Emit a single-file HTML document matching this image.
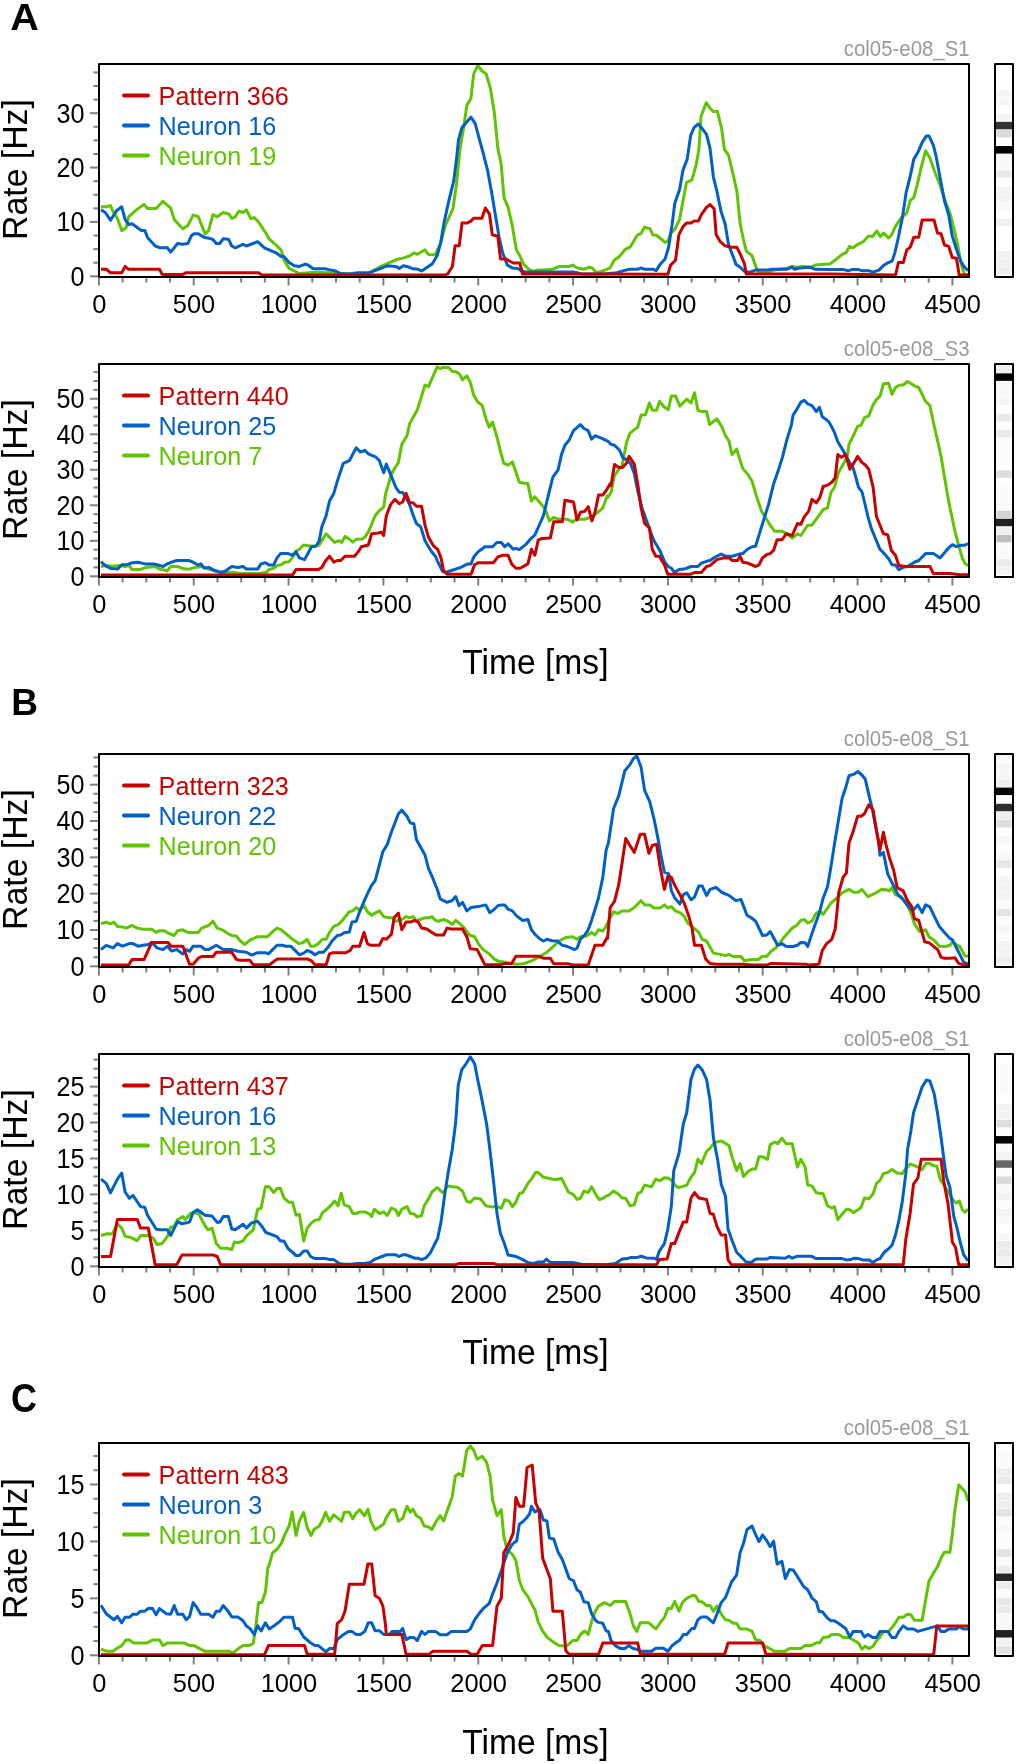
<!DOCTYPE html>
<html><head><meta charset="utf-8"><style>html,body{margin:0;padding:0;background:#fff;width:1017px;height:1764px;overflow:hidden}</style></head>
<body><svg style="display:block;will-change:transform" width="1017" height="1764" viewBox="0 0 1017 1764">
<rect width="1017" height="1764" fill="#fff"/>
<text transform="translate(10.30,29.80) scale(1.07,1.0)" font-weight="bold" font-family='"Liberation Sans", sans-serif' font-size="37">A</text>
<text transform="translate(11.20,715.30) scale(1.0,1.02)" font-weight="bold" font-family='"Liberation Sans", sans-serif' font-size="37">B</text>
<text transform="translate(11.00,1412.30) scale(0.97,1.09)" font-weight="bold" font-family='"Liberation Sans", sans-serif' font-size="37">C</text>
<clipPath id="c0"><rect x="99" y="64" width="870" height="213"/></clipPath>
<line x1="90" y1="276.30" x2="99" y2="276.30" stroke="#808080" stroke-width="2"/>
<text transform="translate(84.60,285.60) scale(1.0,1.08)" text-anchor="end" font-family='"Liberation Sans", sans-serif' font-size="25.2">0</text>
<line x1="93.5" y1="262.71" x2="99" y2="262.71" stroke="#808080" stroke-width="2"/>
<line x1="93.5" y1="249.12" x2="99" y2="249.12" stroke="#808080" stroke-width="2"/>
<line x1="93.5" y1="235.53" x2="99" y2="235.53" stroke="#808080" stroke-width="2"/>
<line x1="90" y1="221.93" x2="99" y2="221.93" stroke="#808080" stroke-width="2"/>
<text transform="translate(84.60,231.23) scale(1.0,1.08)" text-anchor="end" font-family='"Liberation Sans", sans-serif' font-size="25.2">10</text>
<line x1="93.5" y1="208.34" x2="99" y2="208.34" stroke="#808080" stroke-width="2"/>
<line x1="93.5" y1="194.75" x2="99" y2="194.75" stroke="#808080" stroke-width="2"/>
<line x1="93.5" y1="181.16" x2="99" y2="181.16" stroke="#808080" stroke-width="2"/>
<line x1="90" y1="167.57" x2="99" y2="167.57" stroke="#808080" stroke-width="2"/>
<text transform="translate(84.60,176.87) scale(1.0,1.08)" text-anchor="end" font-family='"Liberation Sans", sans-serif' font-size="25.2">20</text>
<line x1="93.5" y1="153.98" x2="99" y2="153.98" stroke="#808080" stroke-width="2"/>
<line x1="93.5" y1="140.38" x2="99" y2="140.38" stroke="#808080" stroke-width="2"/>
<line x1="93.5" y1="126.79" x2="99" y2="126.79" stroke="#808080" stroke-width="2"/>
<line x1="90" y1="113.20" x2="99" y2="113.20" stroke="#808080" stroke-width="2"/>
<text transform="translate(84.60,122.50) scale(1.0,1.08)" text-anchor="end" font-family='"Liberation Sans", sans-serif' font-size="25.2">30</text>
<line x1="93.5" y1="99.61" x2="99" y2="99.61" stroke="#808080" stroke-width="2"/>
<line x1="93.5" y1="86.02" x2="99" y2="86.02" stroke="#808080" stroke-width="2"/>
<line x1="93.5" y1="72.43" x2="99" y2="72.43" stroke="#808080" stroke-width="2"/>
<line x1="98.90" y1="277" x2="98.90" y2="285.5" stroke="#808080" stroke-width="2"/>
<text transform="translate(99.20,312.90) scale(1.0,1.03)" text-anchor="middle" font-family='"Liberation Sans", sans-serif' font-size="25.4">0</text>
<line x1="122.61" y1="277" x2="122.61" y2="282.5" stroke="#808080" stroke-width="2"/>
<line x1="146.32" y1="277" x2="146.32" y2="282.5" stroke="#808080" stroke-width="2"/>
<line x1="170.03" y1="277" x2="170.03" y2="282.5" stroke="#808080" stroke-width="2"/>
<line x1="193.73" y1="277" x2="193.73" y2="285.5" stroke="#808080" stroke-width="2"/>
<text transform="translate(194.03,312.90) scale(1.0,1.03)" text-anchor="middle" font-family='"Liberation Sans", sans-serif' font-size="25.4">500</text>
<line x1="217.44" y1="277" x2="217.44" y2="282.5" stroke="#808080" stroke-width="2"/>
<line x1="241.15" y1="277" x2="241.15" y2="282.5" stroke="#808080" stroke-width="2"/>
<line x1="264.86" y1="277" x2="264.86" y2="282.5" stroke="#808080" stroke-width="2"/>
<line x1="288.57" y1="277" x2="288.57" y2="285.5" stroke="#808080" stroke-width="2"/>
<text transform="translate(288.87,312.90) scale(1.0,1.03)" text-anchor="middle" font-family='"Liberation Sans", sans-serif' font-size="25.4">1000</text>
<line x1="312.27" y1="277" x2="312.27" y2="282.5" stroke="#808080" stroke-width="2"/>
<line x1="335.98" y1="277" x2="335.98" y2="282.5" stroke="#808080" stroke-width="2"/>
<line x1="359.69" y1="277" x2="359.69" y2="282.5" stroke="#808080" stroke-width="2"/>
<line x1="383.40" y1="277" x2="383.40" y2="285.5" stroke="#808080" stroke-width="2"/>
<text transform="translate(383.70,312.90) scale(1.0,1.03)" text-anchor="middle" font-family='"Liberation Sans", sans-serif' font-size="25.4">1500</text>
<line x1="407.11" y1="277" x2="407.11" y2="282.5" stroke="#808080" stroke-width="2"/>
<line x1="430.82" y1="277" x2="430.82" y2="282.5" stroke="#808080" stroke-width="2"/>
<line x1="454.52" y1="277" x2="454.52" y2="282.5" stroke="#808080" stroke-width="2"/>
<line x1="478.23" y1="277" x2="478.23" y2="285.5" stroke="#808080" stroke-width="2"/>
<text transform="translate(478.53,312.90) scale(1.0,1.03)" text-anchor="middle" font-family='"Liberation Sans", sans-serif' font-size="25.4">2000</text>
<line x1="501.94" y1="277" x2="501.94" y2="282.5" stroke="#808080" stroke-width="2"/>
<line x1="525.65" y1="277" x2="525.65" y2="282.5" stroke="#808080" stroke-width="2"/>
<line x1="549.36" y1="277" x2="549.36" y2="282.5" stroke="#808080" stroke-width="2"/>
<line x1="573.07" y1="277" x2="573.07" y2="285.5" stroke="#808080" stroke-width="2"/>
<text transform="translate(573.37,312.90) scale(1.0,1.03)" text-anchor="middle" font-family='"Liberation Sans", sans-serif' font-size="25.4">2500</text>
<line x1="596.78" y1="277" x2="596.78" y2="282.5" stroke="#808080" stroke-width="2"/>
<line x1="620.48" y1="277" x2="620.48" y2="282.5" stroke="#808080" stroke-width="2"/>
<line x1="644.19" y1="277" x2="644.19" y2="282.5" stroke="#808080" stroke-width="2"/>
<line x1="667.90" y1="277" x2="667.90" y2="285.5" stroke="#808080" stroke-width="2"/>
<text transform="translate(668.20,312.90) scale(1.0,1.03)" text-anchor="middle" font-family='"Liberation Sans", sans-serif' font-size="25.4">3000</text>
<line x1="691.61" y1="277" x2="691.61" y2="282.5" stroke="#808080" stroke-width="2"/>
<line x1="715.32" y1="277" x2="715.32" y2="282.5" stroke="#808080" stroke-width="2"/>
<line x1="739.02" y1="277" x2="739.02" y2="282.5" stroke="#808080" stroke-width="2"/>
<line x1="762.73" y1="277" x2="762.73" y2="285.5" stroke="#808080" stroke-width="2"/>
<text transform="translate(763.03,312.90) scale(1.0,1.03)" text-anchor="middle" font-family='"Liberation Sans", sans-serif' font-size="25.4">3500</text>
<line x1="786.44" y1="277" x2="786.44" y2="282.5" stroke="#808080" stroke-width="2"/>
<line x1="810.15" y1="277" x2="810.15" y2="282.5" stroke="#808080" stroke-width="2"/>
<line x1="833.86" y1="277" x2="833.86" y2="282.5" stroke="#808080" stroke-width="2"/>
<line x1="857.57" y1="277" x2="857.57" y2="285.5" stroke="#808080" stroke-width="2"/>
<text transform="translate(857.87,312.90) scale(1.0,1.03)" text-anchor="middle" font-family='"Liberation Sans", sans-serif' font-size="25.4">4000</text>
<line x1="881.27" y1="277" x2="881.27" y2="282.5" stroke="#808080" stroke-width="2"/>
<line x1="904.98" y1="277" x2="904.98" y2="282.5" stroke="#808080" stroke-width="2"/>
<line x1="928.69" y1="277" x2="928.69" y2="282.5" stroke="#808080" stroke-width="2"/>
<line x1="952.40" y1="277" x2="952.40" y2="285.5" stroke="#808080" stroke-width="2"/>
<text transform="translate(952.70,312.90) scale(1.0,1.03)" text-anchor="middle" font-family='"Liberation Sans", sans-serif' font-size="25.4">4500</text>
<polyline clip-path="url(#c0)" points="101.0,206.8 106.2,206.8 110.5,205.6 113.1,211.6 117.4,218.5 121.7,230.6 126.0,228.0 128.6,216.8 136.3,209.9 144.0,204.4 147.5,208.5 156.1,208.5 163.0,201.3 170.7,208.2 174.2,219.4 182.8,228.8 187.9,225.4 193.1,215.1 198.3,216.8 205.1,234.0 208.6,230.6 212.9,214.7 217.2,216.8 223.2,212.5 229.2,214.2 231.8,218.5 235.3,216.8 238.7,211.3 243.0,212.5 246.4,209.9 250.7,218.5 254.2,217.6 258.5,222.0 265.4,232.3 269.3,239.2 275.3,244.3 281.3,250.3 283.9,259.8 289.1,268.4 294.3,271.0 299.4,273.6 309.7,272.7 316.6,272.2 327.0,272.7 333.8,273.6 342.4,273.6 347.6,273.9 357.9,272.7 370.0,272.2 382.0,265.8 395.8,259.8 402.7,258.1 409.6,256.0 413.9,252.9 417.3,254.3 425.0,249.8 428.5,254.6 435.1,254.8 440.6,243.1 445.5,225.2 453.0,208.7 456.5,183.9 459.9,149.5 464.1,124.7 466.8,105.4 470.9,98.5 473.7,73.8 477.8,65.5 481.9,71.0 486.1,73.8 490.2,87.5 494.3,112.3 497.8,148.1 501.2,164.6 504.0,197.7 508.1,207.3 512.2,225.2 516.4,250.0 519.8,255.5 523.2,263.7 528.8,269.3 532.9,271.3 538.4,269.9 543.9,269.9 552.2,269.3 559.1,266.5 568.8,266.5 572.9,265.1 577.0,267.9 583.9,269.3 589.4,267.2 592.2,267.9 596.3,272.7 601.8,271.3 610.1,267.9 614.2,260.3 619.7,256.2 625.2,249.3 630.0,247.2 637.6,234.8 641.0,233.5 644.5,227.3 650.0,228.6 652.7,234.8 656.9,235.5 665.1,242.4 667.9,241.0 670.6,233.5 674.8,229.3 679.6,219.7 682.3,204.5 686.5,182.5 692.0,179.8 696.2,164.6 698.9,149.5 701.0,116.4 706.2,102.7 710.0,108.2 713.4,111.6 717.5,111.6 721.7,128.8 724.4,149.5 728.5,155.0 732.7,172.9 736.8,190.8 740.2,223.8 743.0,237.6 746.4,251.4 751.9,255.5 756.8,269.3 758.8,272.7 767.1,272.7 772.6,270.6 778.1,269.3 786.4,268.6 791.9,266.5 797.4,267.2 802.9,266.5 811.1,267.2 815.3,265.1 820.8,264.4 830.0,263.9 835.6,259.7 842.6,254.1 846.1,252.7 849.5,246.4 853.0,247.8 857.9,244.3 863.5,241.5 868.4,235.9 872.6,236.6 876.8,231.0 880.3,236.6 883.8,233.1 888.6,238.0 891.4,235.2 895.6,226.2 901.2,217.8 906.8,212.9 910.3,200.3 913.8,197.5 917.3,184.3 921.5,166.1 925.6,150.8 929.8,157.7 934.7,171.7 940.3,185.7 945.2,201.0 950.1,213.6 954.3,230.3 957.8,245.7 961.2,263.9 964.0,273.6 968.2,275.0" fill="none" stroke="#60c400" stroke-width="3" stroke-linejoin="round" stroke-linecap="butt"/>
<polyline clip-path="url(#c0)" points="101.0,209.9 105.3,212.5 110.5,220.2 116.5,210.8 121.7,206.8 125.1,219.4 128.6,224.5 132.0,223.7 141.5,230.6 144.9,230.6 147.5,237.4 155.2,246.0 160.4,247.8 167.3,247.8 170.7,252.1 177.6,243.5 182.8,244.3 187.9,243.5 191.4,235.7 194.0,233.7 198.3,233.7 204.3,237.4 209.4,238.3 212.9,239.5 216.3,243.5 219.8,243.5 223.2,238.8 228.4,239.2 231.8,246.0 235.3,247.8 243.0,244.3 246.4,246.0 257.6,241.7 264.5,247.8 270.2,250.3 276.2,252.9 281.3,256.4 283.9,256.4 289.1,262.4 294.3,265.8 299.4,266.4 305.4,264.1 308.0,265.0 313.2,268.8 325.2,268.8 330.4,270.1 335.6,271.0 340.7,273.6 351.0,273.9 357.9,273.1 368.3,273.2 376.9,269.8 387.2,265.8 395.8,266.4 399.2,268.4 403.5,265.8 407.8,266.7 413.0,268.8 418.2,269.3 421.6,271.0 426.8,267.6 432.4,263.7 437.2,255.5 440.6,243.1 444.1,222.4 448.9,200.4 453.7,181.1 456.5,159.1 458.5,139.8 462.0,127.5 466.8,121.9 470.9,117.1 475.1,123.3 479.2,138.5 483.3,153.6 487.5,170.1 491.6,192.2 495.7,216.9 499.2,237.6 502.6,252.7 507.4,265.1 512.2,267.9 517.7,268.6 521.9,271.3 526.0,272.0 543.9,272.0 572.9,272.0 577.0,272.7 582.5,274.1 603.2,274.1 610.1,273.4 616.9,272.7 623.8,270.6 629.3,269.3 637.6,269.3 641.0,267.9 644.5,269.3 653.4,269.3 656.2,270.6 659.6,265.1 665.1,258.9 668.6,247.2 672.0,225.2 674.8,203.2 679.6,189.4 683.0,170.1 687.2,159.1 690.6,135.7 694.1,127.5 698.3,124.0 702.4,128.8 706.5,134.3 710.0,148.1 713.4,177.0 716.8,190.8 721.0,211.4 725.1,223.8 728.5,244.5 732.7,255.5 736.1,264.4 740.2,267.2 745.1,272.0 750.6,272.0 756.1,269.9 767.1,269.9 772.6,269.3 786.4,269.3 791.9,267.2 794.6,269.3 800.1,267.9 809.8,267.2 815.3,269.3 830.0,269.4 842.6,269.4 848.2,270.8 852.3,269.4 857.9,269.4 862.1,270.8 869.1,270.8 873.3,272.2 878.9,270.1 883.8,265.2 887.2,263.2 892.1,261.1 894.9,252.7 898.4,237.3 902.6,216.4 906.1,192.6 910.3,175.9 913.8,159.1 918.0,152.2 922.2,142.4 926.3,136.1 929.1,136.1 933.3,145.2 936.1,156.3 940.3,178.7 944.5,201.0 948.7,215.0 952.2,235.9 957.1,251.3 960.6,261.1 964.0,266.6 968.2,270.8" fill="none" stroke="#0060c8" stroke-width="3" stroke-linejoin="round" stroke-linecap="butt"/>
<polyline clip-path="url(#c0)" points="101.0,269.3 106.2,269.3 110.5,272.7 121.7,272.7 125.1,266.4 128.6,269.3 159.5,269.3 162.1,274.4 182.8,274.4 186.2,272.7 258.5,272.7 261.9,275.0 270.0,275.0 440.0,275.0 444.8,274.8 447.5,274.1 452.4,266.5 455.1,245.8 459.2,245.8 462.0,223.1 466.8,223.1 470.9,221.1 473.7,218.3 481.9,218.3 485.4,208.0 489.5,214.2 492.3,234.8 497.8,236.2 500.5,258.9 505.4,258.9 509.5,261.0 513.6,263.1 519.8,263.1 522.6,274.1 560.0,274.1 667.9,274.3 670.6,265.1 675.5,260.3 678.9,234.8 683.0,226.6 686.5,223.1 690.6,223.1 694.1,221.1 698.3,221.1 701.7,214.2 706.5,207.3 710.0,204.5 714.1,208.7 716.2,234.8 720.3,241.7 725.1,245.8 731.3,247.2 736.8,247.2 740.9,255.5 744.4,263.7 746.4,274.1 830.0,274.1 895.6,275.0 898.4,262.5 903.3,262.5 906.8,249.9 910.3,247.1 913.8,237.3 918.7,237.3 922.2,219.9 934.0,219.9 937.5,233.1 941.0,233.8 944.5,245.0 948.7,246.4 952.2,257.6 956.4,258.3 959.2,275.0 968.2,275.0" fill="none" stroke="#c80000" stroke-width="3" stroke-linejoin="round" stroke-linecap="butt"/>
<rect x="99" y="64" width="870" height="213" fill="none" stroke="#000" stroke-width="2" stroke-linejoin="round"/>
<line x1="124" y1="95.6" x2="148" y2="95.6" stroke="#c80000" stroke-width="4" stroke-linecap="round"/>
<text transform="translate(158.60,105.10) scale(1.0,1.057)" fill="#c80000" font-family='"Liberation Sans", sans-serif' font-size="25.2">Pattern 366</text>
<line x1="124" y1="125.6" x2="148" y2="125.6" stroke="#0060c8" stroke-width="4" stroke-linecap="round"/>
<text transform="translate(158.60,135.10) scale(1.0,1.057)" fill="#0060c8" font-family='"Liberation Sans", sans-serif' font-size="25.2">Neuron 16</text>
<line x1="124" y1="155.6" x2="148" y2="155.6" stroke="#60c400" stroke-width="4" stroke-linecap="round"/>
<text transform="translate(158.60,165.10) scale(1.0,1.057)" fill="#60c400" font-family='"Liberation Sans", sans-serif' font-size="25.2">Neuron 19</text>
<text transform="translate(969.60,55.60) scale(1.0,1.09)" text-anchor="end" fill="#999" font-family='"Liberation Sans", sans-serif' font-size="20.4">col05-e08_S1</text>
<text transform="translate(27.20,169.50) rotate(-90) scale(1.0,1.045)" text-anchor="middle" font-family='"Liberation Sans", sans-serif' font-size="33.8">Rate [Hz]</text>
<rect x="996.5" y="89.53" width="15" height="7.48" fill="rgb(245,245,245)"/>
<rect x="996.5" y="97.61" width="15" height="7.48" fill="rgb(245,245,245)"/>
<rect x="996.5" y="113.76" width="15" height="7.48" fill="rgb(243,243,243)"/>
<rect x="995" y="121.84" width="18" height="7.48" fill="rgb(51,51,51)"/>
<rect x="996.5" y="129.92" width="15" height="7.48" fill="rgb(217,217,217)"/>
<rect x="996.5" y="137.99" width="15" height="7.48" fill="rgb(252,252,252)"/>
<rect x="995" y="146.07" width="18" height="7.48" fill="rgb(0,0,0)"/>
<rect x="996.5" y="154.15" width="15" height="7.48" fill="rgb(248,248,248)"/>
<rect x="996.5" y="162.22" width="15" height="7.48" fill="rgb(248,248,248)"/>
<rect x="996.5" y="170.30" width="15" height="7.48" fill="rgb(232,232,232)"/>
<rect x="996.5" y="186.45" width="15" height="7.48" fill="rgb(244,244,244)"/>
<rect x="996.5" y="194.53" width="15" height="7.48" fill="rgb(244,244,244)"/>
<rect x="996.5" y="202.61" width="15" height="7.48" fill="rgb(248,248,248)"/>
<rect x="996.5" y="218.76" width="15" height="7.48" fill="rgb(240,240,240)"/>
<rect x="996.5" y="251.07" width="15" height="7.48" fill="rgb(240,240,240)"/>
<rect x="996.5" y="259.15" width="15" height="7.48" fill="rgb(240,240,240)"/>
<rect x="996.5" y="267.22" width="15" height="7.48" fill="rgb(238,238,238)"/>
<rect x="995" y="64" width="18" height="213" fill="none" stroke="#000" stroke-width="2" stroke-linejoin="round"/>
<clipPath id="c1"><rect x="99" y="364" width="870" height="213"/></clipPath>
<line x1="90" y1="576.30" x2="99" y2="576.30" stroke="#808080" stroke-width="2"/>
<text transform="translate(84.60,585.60) scale(1.0,1.08)" text-anchor="end" font-family='"Liberation Sans", sans-serif' font-size="25.2">0</text>
<line x1="93.5" y1="567.42" x2="99" y2="567.42" stroke="#808080" stroke-width="2"/>
<line x1="93.5" y1="558.55" x2="99" y2="558.55" stroke="#808080" stroke-width="2"/>
<line x1="93.5" y1="549.67" x2="99" y2="549.67" stroke="#808080" stroke-width="2"/>
<line x1="90" y1="540.80" x2="99" y2="540.80" stroke="#808080" stroke-width="2"/>
<text transform="translate(84.60,550.10) scale(1.0,1.08)" text-anchor="end" font-family='"Liberation Sans", sans-serif' font-size="25.2">10</text>
<line x1="93.5" y1="531.92" x2="99" y2="531.92" stroke="#808080" stroke-width="2"/>
<line x1="93.5" y1="523.05" x2="99" y2="523.05" stroke="#808080" stroke-width="2"/>
<line x1="93.5" y1="514.17" x2="99" y2="514.17" stroke="#808080" stroke-width="2"/>
<line x1="90" y1="505.30" x2="99" y2="505.30" stroke="#808080" stroke-width="2"/>
<text transform="translate(84.60,514.60) scale(1.0,1.08)" text-anchor="end" font-family='"Liberation Sans", sans-serif' font-size="25.2">20</text>
<line x1="93.5" y1="496.42" x2="99" y2="496.42" stroke="#808080" stroke-width="2"/>
<line x1="93.5" y1="487.55" x2="99" y2="487.55" stroke="#808080" stroke-width="2"/>
<line x1="93.5" y1="478.67" x2="99" y2="478.67" stroke="#808080" stroke-width="2"/>
<line x1="90" y1="469.79" x2="99" y2="469.79" stroke="#808080" stroke-width="2"/>
<text transform="translate(84.60,479.09) scale(1.0,1.08)" text-anchor="end" font-family='"Liberation Sans", sans-serif' font-size="25.2">30</text>
<line x1="93.5" y1="460.92" x2="99" y2="460.92" stroke="#808080" stroke-width="2"/>
<line x1="93.5" y1="452.04" x2="99" y2="452.04" stroke="#808080" stroke-width="2"/>
<line x1="93.5" y1="443.17" x2="99" y2="443.17" stroke="#808080" stroke-width="2"/>
<line x1="90" y1="434.29" x2="99" y2="434.29" stroke="#808080" stroke-width="2"/>
<text transform="translate(84.60,443.59) scale(1.0,1.08)" text-anchor="end" font-family='"Liberation Sans", sans-serif' font-size="25.2">40</text>
<line x1="93.5" y1="425.42" x2="99" y2="425.42" stroke="#808080" stroke-width="2"/>
<line x1="93.5" y1="416.54" x2="99" y2="416.54" stroke="#808080" stroke-width="2"/>
<line x1="93.5" y1="407.67" x2="99" y2="407.67" stroke="#808080" stroke-width="2"/>
<line x1="90" y1="398.79" x2="99" y2="398.79" stroke="#808080" stroke-width="2"/>
<text transform="translate(84.60,408.09) scale(1.0,1.08)" text-anchor="end" font-family='"Liberation Sans", sans-serif' font-size="25.2">50</text>
<line x1="93.5" y1="389.92" x2="99" y2="389.92" stroke="#808080" stroke-width="2"/>
<line x1="93.5" y1="381.04" x2="99" y2="381.04" stroke="#808080" stroke-width="2"/>
<line x1="93.5" y1="372.17" x2="99" y2="372.17" stroke="#808080" stroke-width="2"/>
<line x1="98.90" y1="577" x2="98.90" y2="585.5" stroke="#808080" stroke-width="2"/>
<text transform="translate(99.20,612.90) scale(1.0,1.03)" text-anchor="middle" font-family='"Liberation Sans", sans-serif' font-size="25.4">0</text>
<line x1="122.61" y1="577" x2="122.61" y2="582.5" stroke="#808080" stroke-width="2"/>
<line x1="146.32" y1="577" x2="146.32" y2="582.5" stroke="#808080" stroke-width="2"/>
<line x1="170.03" y1="577" x2="170.03" y2="582.5" stroke="#808080" stroke-width="2"/>
<line x1="193.73" y1="577" x2="193.73" y2="585.5" stroke="#808080" stroke-width="2"/>
<text transform="translate(194.03,612.90) scale(1.0,1.03)" text-anchor="middle" font-family='"Liberation Sans", sans-serif' font-size="25.4">500</text>
<line x1="217.44" y1="577" x2="217.44" y2="582.5" stroke="#808080" stroke-width="2"/>
<line x1="241.15" y1="577" x2="241.15" y2="582.5" stroke="#808080" stroke-width="2"/>
<line x1="264.86" y1="577" x2="264.86" y2="582.5" stroke="#808080" stroke-width="2"/>
<line x1="288.57" y1="577" x2="288.57" y2="585.5" stroke="#808080" stroke-width="2"/>
<text transform="translate(288.87,612.90) scale(1.0,1.03)" text-anchor="middle" font-family='"Liberation Sans", sans-serif' font-size="25.4">1000</text>
<line x1="312.27" y1="577" x2="312.27" y2="582.5" stroke="#808080" stroke-width="2"/>
<line x1="335.98" y1="577" x2="335.98" y2="582.5" stroke="#808080" stroke-width="2"/>
<line x1="359.69" y1="577" x2="359.69" y2="582.5" stroke="#808080" stroke-width="2"/>
<line x1="383.40" y1="577" x2="383.40" y2="585.5" stroke="#808080" stroke-width="2"/>
<text transform="translate(383.70,612.90) scale(1.0,1.03)" text-anchor="middle" font-family='"Liberation Sans", sans-serif' font-size="25.4">1500</text>
<line x1="407.11" y1="577" x2="407.11" y2="582.5" stroke="#808080" stroke-width="2"/>
<line x1="430.82" y1="577" x2="430.82" y2="582.5" stroke="#808080" stroke-width="2"/>
<line x1="454.52" y1="577" x2="454.52" y2="582.5" stroke="#808080" stroke-width="2"/>
<line x1="478.23" y1="577" x2="478.23" y2="585.5" stroke="#808080" stroke-width="2"/>
<text transform="translate(478.53,612.90) scale(1.0,1.03)" text-anchor="middle" font-family='"Liberation Sans", sans-serif' font-size="25.4">2000</text>
<line x1="501.94" y1="577" x2="501.94" y2="582.5" stroke="#808080" stroke-width="2"/>
<line x1="525.65" y1="577" x2="525.65" y2="582.5" stroke="#808080" stroke-width="2"/>
<line x1="549.36" y1="577" x2="549.36" y2="582.5" stroke="#808080" stroke-width="2"/>
<line x1="573.07" y1="577" x2="573.07" y2="585.5" stroke="#808080" stroke-width="2"/>
<text transform="translate(573.37,612.90) scale(1.0,1.03)" text-anchor="middle" font-family='"Liberation Sans", sans-serif' font-size="25.4">2500</text>
<line x1="596.78" y1="577" x2="596.78" y2="582.5" stroke="#808080" stroke-width="2"/>
<line x1="620.48" y1="577" x2="620.48" y2="582.5" stroke="#808080" stroke-width="2"/>
<line x1="644.19" y1="577" x2="644.19" y2="582.5" stroke="#808080" stroke-width="2"/>
<line x1="667.90" y1="577" x2="667.90" y2="585.5" stroke="#808080" stroke-width="2"/>
<text transform="translate(668.20,612.90) scale(1.0,1.03)" text-anchor="middle" font-family='"Liberation Sans", sans-serif' font-size="25.4">3000</text>
<line x1="691.61" y1="577" x2="691.61" y2="582.5" stroke="#808080" stroke-width="2"/>
<line x1="715.32" y1="577" x2="715.32" y2="582.5" stroke="#808080" stroke-width="2"/>
<line x1="739.02" y1="577" x2="739.02" y2="582.5" stroke="#808080" stroke-width="2"/>
<line x1="762.73" y1="577" x2="762.73" y2="585.5" stroke="#808080" stroke-width="2"/>
<text transform="translate(763.03,612.90) scale(1.0,1.03)" text-anchor="middle" font-family='"Liberation Sans", sans-serif' font-size="25.4">3500</text>
<line x1="786.44" y1="577" x2="786.44" y2="582.5" stroke="#808080" stroke-width="2"/>
<line x1="810.15" y1="577" x2="810.15" y2="582.5" stroke="#808080" stroke-width="2"/>
<line x1="833.86" y1="577" x2="833.86" y2="582.5" stroke="#808080" stroke-width="2"/>
<line x1="857.57" y1="577" x2="857.57" y2="585.5" stroke="#808080" stroke-width="2"/>
<text transform="translate(857.87,612.90) scale(1.0,1.03)" text-anchor="middle" font-family='"Liberation Sans", sans-serif' font-size="25.4">4000</text>
<line x1="881.27" y1="577" x2="881.27" y2="582.5" stroke="#808080" stroke-width="2"/>
<line x1="904.98" y1="577" x2="904.98" y2="582.5" stroke="#808080" stroke-width="2"/>
<line x1="928.69" y1="577" x2="928.69" y2="582.5" stroke="#808080" stroke-width="2"/>
<line x1="952.40" y1="577" x2="952.40" y2="585.5" stroke="#808080" stroke-width="2"/>
<text transform="translate(952.70,612.90) scale(1.0,1.03)" text-anchor="middle" font-family='"Liberation Sans", sans-serif' font-size="25.4">4500</text>
<polyline clip-path="url(#c1)" points="101.0,566.5 105.3,565.6 112.2,566.2 120.8,565.6 125.1,566.5 129.4,565.6 132.0,569.6 139.7,569.6 146.6,567.4 155.2,566.5 159.5,569.1 167.3,570.8 170.7,566.5 177.6,566.5 184.5,569.1 189.6,569.1 194.8,567.4 201.7,566.5 208.6,569.1 218.9,572.0 227.5,572.5 232.7,572.5 241.3,573.4 249.9,573.4 260.2,573.4 267.1,572.0 268.4,569.9 273.6,568.2 277.0,565.6 281.3,564.8 284.8,562.2 289.1,561.7 293.4,556.2 296.0,551.0 299.4,549.3 303.7,545.0 309.7,545.9 314.9,545.9 319.2,545.0 326.1,533.8 330.4,538.1 334.7,542.4 339.0,540.7 341.6,542.4 345.0,536.4 349.3,539.0 352.8,542.1 356.2,539.3 362.2,539.0 364.8,537.3 368.3,532.1 375.1,515.7 378.6,511.4 383.7,507.1 385.5,494.2 391.5,473.6 398.4,462.4 401.8,444.3 407.0,435.7 409.6,423.7 417.3,409.9 425.0,385.0 428.5,386.7 437.1,366.9 440.2,368.6 443.6,367.2 448.8,367.7 452.2,371.2 456.5,372.0 460.0,374.6 462.5,379.8 466.8,375.8 470.3,382.4 473.7,395.3 477.2,401.3 482.3,405.6 485.8,418.5 489.2,427.1 492.6,422.0 497.0,437.4 501.3,454.6 503.8,463.3 508.1,465.0 512.4,461.9 515.9,471.9 519.3,482.2 522.8,483.0 527.9,483.6 531.4,501.1 534.8,496.8 540.0,502.8 545.1,508.9 549.4,520.9 553.7,517.5 558.9,519.2 567.5,519.2 572.7,522.1 576.1,519.2 584.7,519.2 589.9,517.5 596.8,513.2 602.8,508.0 607.1,495.9 607.6,497.7 611.0,492.5 614.5,475.3 617.9,471.0 622.2,465.0 624.8,451.2 626.5,442.6 630.0,433.1 637.7,427.1 641.1,415.1 645.4,414.7 649.4,403.0 652.3,410.2 656.6,410.2 659.7,401.3 664.4,407.3 668.3,409.6 671.3,396.1 675.6,396.1 679.9,406.1 686.7,399.2 691.0,403.0 694.5,392.7 697.9,410.2 702.2,411.6 706.5,411.6 709.6,424.5 716.9,418.9 722.0,427.1 725.5,435.7 728.9,440.9 732.0,454.6 736.6,449.1 742.7,468.4 747.8,474.4 752.1,481.3 756.4,495.9 761.6,511.4 765.9,518.3 770.2,525.2 774.5,531.2 781.9,531.2 787.0,533.8 792.2,538.1 797.4,533.8 800.8,535.5 807.7,525.2 812.0,525.2 816.3,519.2 823.2,509.7 827.5,508.0 830.9,492.5 834.4,487.3 838.7,471.9 843.8,463.3 847.3,456.4 849.0,444.3 854.2,434.0 857.6,426.3 861.0,425.4 864.5,417.6 868.8,415.9 873.1,404.7 876.5,399.6 880.0,396.1 883.4,384.1 888.6,383.2 892.0,394.4 895.5,387.5 899.8,385.0 903.2,385.0 907.5,381.5 911.8,384.1 914.4,385.8 918.7,387.5 922.1,394.4 925.6,401.3 929.9,405.6 933.3,422.0 936.8,437.4 941.1,456.4 944.5,477.0 947.1,492.5 950.0,508.0 951.2,513.5 954.9,531.0 958.7,545.9 962.4,558.4 964.9,563.4 968.0,565.9" fill="none" stroke="#60c400" stroke-width="3" stroke-linejoin="round" stroke-linecap="butt"/>
<polyline clip-path="url(#c1)" points="101.0,561.7 105.3,565.6 111.3,568.6 117.4,569.1 121.7,564.8 127.7,564.4 131.1,563.1 138.0,562.2 144.9,563.9 153.5,563.9 157.0,564.8 163.0,566.5 167.3,563.9 171.6,562.2 176.7,560.5 188.8,560.5 193.1,562.2 198.3,565.1 200.8,563.9 204.3,567.9 208.6,567.4 215.5,570.8 221.5,572.5 225.8,570.8 231.8,566.5 237.8,567.4 243.0,566.5 246.4,569.1 257.6,569.1 261.1,563.9 265.4,562.7 269.3,565.1 273.6,565.1 277.0,557.9 280.5,553.6 288.2,553.6 292.5,555.3 296.0,551.9 299.4,557.9 304.6,559.6 311.5,546.7 315.8,546.2 319.2,540.7 321.8,526.9 326.1,515.7 329.5,501.1 333.8,493.4 338.1,478.7 343.3,463.3 349.3,460.7 356.2,447.8 360.5,452.1 364.8,450.3 368.3,453.8 376.0,457.2 379.4,460.7 383.7,472.7 386.3,464.1 390.6,474.4 395.8,487.3 399.2,492.2 402.7,492.5 406.1,497.7 409.6,504.6 413.0,514.9 416.4,523.5 420.7,526.9 425.0,540.7 431.1,551.0 435.4,556.2 437.6,561.3 442.7,571.7 447.0,572.0 452.2,570.3 460.8,567.4 467.7,563.9 471.1,563.9 473.7,557.0 478.0,551.9 484.9,546.7 492.6,546.7 497.0,542.4 501.3,542.4 504.7,546.7 508.1,543.8 513.3,549.3 515.9,548.4 519.3,549.6 526.2,544.1 531.4,538.1 534.8,535.2 540.0,523.5 543.4,515.7 548.6,494.2 552.9,477.0 558.0,470.1 561.5,454.6 564.9,445.2 569.2,440.0 573.5,430.6 580.4,424.5 583.9,428.5 588.2,430.6 591.6,439.2 595.0,435.7 601.9,438.3 607.1,440.9 607.6,440.9 611.0,444.3 614.5,445.2 619.6,450.3 623.1,458.1 626.5,459.5 630.8,464.1 634.3,473.6 637.7,490.8 642.0,508.0 646.3,520.0 650.6,532.1 654.0,540.7 660.1,551.0 664.4,561.3 667.8,566.2 671.3,568.2 674.7,572.5 679.0,569.6 684.2,569.1 691.0,566.5 697.9,566.5 701.4,563.1 706.5,561.3 710.0,560.5 715.1,557.0 721.2,554.1 725.5,556.2 732.3,556.2 739.2,554.1 742.7,553.6 747.8,549.0 752.1,546.7 755.6,546.2 759.9,532.1 764.2,518.3 768.5,504.6 773.6,483.9 778.4,470.1 782.7,456.4 787.0,439.2 791.3,425.4 793.1,415.1 796.5,409.9 800.8,402.2 804.3,400.4 807.7,403.9 812.0,405.6 816.3,411.6 819.4,407.3 822.3,416.8 828.3,421.1 831.8,427.1 834.4,432.3 837.8,441.7 843.0,450.3 849.0,461.5 853.3,468.4 856.7,480.5 858.5,487.3 861.9,491.6 864.5,502.0 867.9,516.6 871.4,528.6 875.7,539.0 880.0,549.3 884.3,553.6 888.6,558.8 892.0,564.8 895.5,565.1 898.9,569.6 903.2,567.4 907.5,566.5 914.4,562.2 918.7,560.5 925.6,553.6 933.3,553.6 940.2,557.9 948.7,547.8 952.4,544.7 956.2,546.6 961.2,545.3 964.9,545.3 968.0,543.5" fill="none" stroke="#0060c8" stroke-width="3" stroke-linejoin="round" stroke-linecap="butt"/>
<polyline clip-path="url(#c1)" points="101.0,575.1 270.0,575.1 292.5,574.8 296.0,569.6 318.3,569.6 321.8,567.4 325.2,561.3 329.5,556.2 333.8,562.2 337.3,560.5 340.7,560.5 345.0,556.2 354.5,556.2 358.8,551.0 361.4,546.7 368.3,545.0 371.7,533.8 378.6,532.9 381.2,532.1 383.7,535.5 386.3,515.7 390.6,504.6 394.9,499.4 399.2,503.7 402.7,502.0 406.1,493.4 409.6,502.8 413.0,502.8 416.4,506.3 421.6,506.3 425.0,525.2 428.5,537.3 433.6,545.9 437.6,549.3 441.0,557.9 443.6,570.8 447.0,574.2 471.1,574.2 474.6,564.8 478.0,562.7 493.5,562.7 497.8,557.0 502.1,555.3 508.1,555.3 511.6,563.9 515.9,568.2 520.2,568.2 527.9,563.9 531.4,549.3 534.8,555.3 538.3,539.8 541.7,538.6 550.3,538.1 553.7,521.8 562.3,521.8 564.9,500.3 573.5,502.0 577.0,520.0 580.4,512.3 584.7,511.4 588.2,506.6 591.9,520.9 595.0,512.3 598.5,495.1 602.8,495.1 607.1,489.1 610.0,483.9 611.0,485.6 614.5,464.6 618.8,467.6 622.2,467.6 626.5,463.3 629.1,456.4 634.3,464.1 637.7,483.9 641.1,508.0 644.6,523.5 649.4,527.8 652.3,549.3 655.8,556.2 659.2,556.2 664.4,564.8 667.8,574.2 691.0,574.2 694.5,572.5 701.4,572.5 706.5,566.5 710.0,565.6 716.9,559.6 723.7,557.9 728.9,557.9 732.3,560.5 737.5,560.5 740.1,556.2 742.7,562.2 747.8,563.1 755.6,566.5 759.0,564.8 762.5,557.9 766.8,554.5 770.2,553.6 773.6,550.2 777.1,539.8 777.6,539.8 781.9,539.8 786.2,533.8 792.2,535.5 797.4,523.5 800.8,524.3 804.3,516.6 808.6,511.4 812.0,499.4 816.3,502.8 819.7,497.7 823.2,486.5 828.3,484.8 831.8,482.2 835.2,477.9 837.8,454.6 841.3,457.2 845.6,454.6 849.9,469.3 854.2,462.4 857.6,456.4 861.9,462.4 865.3,465.0 868.8,469.3 873.1,487.3 876.5,516.6 880.0,525.2 883.4,533.8 887.7,534.7 891.2,550.2 895.5,555.3 898.9,565.6 905.8,566.5 929.9,566.5 933.3,573.4 950.0,573.4 959.9,574.7 968.0,574.7" fill="none" stroke="#c80000" stroke-width="3" stroke-linejoin="round" stroke-linecap="butt"/>
<rect x="99" y="364" width="870" height="213" fill="none" stroke="#000" stroke-width="2" stroke-linejoin="round"/>
<line x1="124" y1="395.6" x2="148" y2="395.6" stroke="#c80000" stroke-width="4" stroke-linecap="round"/>
<text transform="translate(158.60,405.10) scale(1.0,1.057)" fill="#c80000" font-family='"Liberation Sans", sans-serif' font-size="25.2">Pattern 440</text>
<line x1="124" y1="425.6" x2="148" y2="425.6" stroke="#0060c8" stroke-width="4" stroke-linecap="round"/>
<text transform="translate(158.60,435.10) scale(1.0,1.057)" fill="#0060c8" font-family='"Liberation Sans", sans-serif' font-size="25.2">Neuron 25</text>
<line x1="124" y1="455.6" x2="148" y2="455.6" stroke="#60c400" stroke-width="4" stroke-linecap="round"/>
<text transform="translate(158.60,465.10) scale(1.0,1.057)" fill="#60c400" font-family='"Liberation Sans", sans-serif' font-size="25.2">Neuron 7</text>
<text transform="translate(969.60,355.60) scale(1.0,1.09)" text-anchor="end" fill="#999" font-family='"Liberation Sans", sans-serif' font-size="20.4">col05-e08_S3</text>
<text transform="translate(27.20,469.50) rotate(-90) scale(1.0,1.045)" text-anchor="middle" font-family='"Liberation Sans", sans-serif' font-size="33.8">Rate [Hz]</text>
<rect x="996.5" y="365.30" width="15" height="7.48" fill="rgb(238,238,238)"/>
<rect x="995" y="373.38" width="18" height="7.48" fill="rgb(0,0,0)"/>
<rect x="996.5" y="381.45" width="15" height="7.48" fill="rgb(248,248,248)"/>
<rect x="996.5" y="389.53" width="15" height="7.48" fill="rgb(248,248,248)"/>
<rect x="996.5" y="397.61" width="15" height="7.48" fill="rgb(245,245,245)"/>
<rect x="996.5" y="413.76" width="15" height="7.48" fill="rgb(233,233,233)"/>
<rect x="996.5" y="421.84" width="15" height="7.48" fill="rgb(252,252,252)"/>
<rect x="996.5" y="429.92" width="15" height="7.48" fill="rgb(235,235,235)"/>
<rect x="996.5" y="437.99" width="15" height="7.48" fill="rgb(252,252,252)"/>
<rect x="996.5" y="446.07" width="15" height="7.48" fill="rgb(252,252,252)"/>
<rect x="996.5" y="454.15" width="15" height="7.48" fill="rgb(252,252,252)"/>
<rect x="996.5" y="462.22" width="15" height="7.48" fill="rgb(252,252,252)"/>
<rect x="996.5" y="470.30" width="15" height="7.48" fill="rgb(221,221,221)"/>
<rect x="996.5" y="486.45" width="15" height="7.48" fill="rgb(250,250,250)"/>
<rect x="996.5" y="494.53" width="15" height="7.48" fill="rgb(250,250,250)"/>
<rect x="996.5" y="502.61" width="15" height="7.48" fill="rgb(250,250,250)"/>
<rect x="996.5" y="510.68" width="15" height="7.48" fill="rgb(213,213,213)"/>
<rect x="995" y="518.76" width="18" height="7.48" fill="rgb(34,34,34)"/>
<rect x="996.5" y="526.84" width="15" height="7.48" fill="rgb(240,240,240)"/>
<rect x="996.5" y="534.92" width="15" height="7.48" fill="rgb(192,192,192)"/>
<rect x="996.5" y="542.99" width="15" height="7.48" fill="rgb(250,250,250)"/>
<rect x="996.5" y="551.07" width="15" height="7.48" fill="rgb(250,250,250)"/>
<rect x="996.5" y="559.15" width="15" height="7.48" fill="rgb(235,235,235)"/>
<rect x="996.5" y="567.22" width="15" height="7.48" fill="rgb(242,242,242)"/>
<rect x="995" y="364" width="18" height="213" fill="none" stroke="#000" stroke-width="2" stroke-linejoin="round"/>
<clipPath id="c2"><rect x="99" y="754" width="870" height="213"/></clipPath>
<line x1="90" y1="966.30" x2="99" y2="966.30" stroke="#808080" stroke-width="2"/>
<text transform="translate(84.60,975.60) scale(1.0,1.08)" text-anchor="end" font-family='"Liberation Sans", sans-serif' font-size="25.2">0</text>
<line x1="93.5" y1="957.22" x2="99" y2="957.22" stroke="#808080" stroke-width="2"/>
<line x1="93.5" y1="948.14" x2="99" y2="948.14" stroke="#808080" stroke-width="2"/>
<line x1="93.5" y1="939.06" x2="99" y2="939.06" stroke="#808080" stroke-width="2"/>
<line x1="90" y1="929.98" x2="99" y2="929.98" stroke="#808080" stroke-width="2"/>
<text transform="translate(84.60,939.28) scale(1.0,1.08)" text-anchor="end" font-family='"Liberation Sans", sans-serif' font-size="25.2">10</text>
<line x1="93.5" y1="920.90" x2="99" y2="920.90" stroke="#808080" stroke-width="2"/>
<line x1="93.5" y1="911.82" x2="99" y2="911.82" stroke="#808080" stroke-width="2"/>
<line x1="93.5" y1="902.74" x2="99" y2="902.74" stroke="#808080" stroke-width="2"/>
<line x1="90" y1="893.66" x2="99" y2="893.66" stroke="#808080" stroke-width="2"/>
<text transform="translate(84.60,902.96) scale(1.0,1.08)" text-anchor="end" font-family='"Liberation Sans", sans-serif' font-size="25.2">20</text>
<line x1="93.5" y1="884.58" x2="99" y2="884.58" stroke="#808080" stroke-width="2"/>
<line x1="93.5" y1="875.50" x2="99" y2="875.50" stroke="#808080" stroke-width="2"/>
<line x1="93.5" y1="866.42" x2="99" y2="866.42" stroke="#808080" stroke-width="2"/>
<line x1="90" y1="857.34" x2="99" y2="857.34" stroke="#808080" stroke-width="2"/>
<text transform="translate(84.60,866.64) scale(1.0,1.08)" text-anchor="end" font-family='"Liberation Sans", sans-serif' font-size="25.2">30</text>
<line x1="93.5" y1="848.25" x2="99" y2="848.25" stroke="#808080" stroke-width="2"/>
<line x1="93.5" y1="839.17" x2="99" y2="839.17" stroke="#808080" stroke-width="2"/>
<line x1="93.5" y1="830.09" x2="99" y2="830.09" stroke="#808080" stroke-width="2"/>
<line x1="90" y1="821.01" x2="99" y2="821.01" stroke="#808080" stroke-width="2"/>
<text transform="translate(84.60,830.31) scale(1.0,1.08)" text-anchor="end" font-family='"Liberation Sans", sans-serif' font-size="25.2">40</text>
<line x1="93.5" y1="811.93" x2="99" y2="811.93" stroke="#808080" stroke-width="2"/>
<line x1="93.5" y1="802.85" x2="99" y2="802.85" stroke="#808080" stroke-width="2"/>
<line x1="93.5" y1="793.77" x2="99" y2="793.77" stroke="#808080" stroke-width="2"/>
<line x1="90" y1="784.69" x2="99" y2="784.69" stroke="#808080" stroke-width="2"/>
<text transform="translate(84.60,793.99) scale(1.0,1.08)" text-anchor="end" font-family='"Liberation Sans", sans-serif' font-size="25.2">50</text>
<line x1="93.5" y1="775.61" x2="99" y2="775.61" stroke="#808080" stroke-width="2"/>
<line x1="93.5" y1="766.53" x2="99" y2="766.53" stroke="#808080" stroke-width="2"/>
<line x1="93.5" y1="757.45" x2="99" y2="757.45" stroke="#808080" stroke-width="2"/>
<line x1="98.90" y1="967" x2="98.90" y2="975.5" stroke="#808080" stroke-width="2"/>
<text transform="translate(99.20,1002.90) scale(1.0,1.03)" text-anchor="middle" font-family='"Liberation Sans", sans-serif' font-size="25.4">0</text>
<line x1="122.61" y1="967" x2="122.61" y2="972.5" stroke="#808080" stroke-width="2"/>
<line x1="146.32" y1="967" x2="146.32" y2="972.5" stroke="#808080" stroke-width="2"/>
<line x1="170.03" y1="967" x2="170.03" y2="972.5" stroke="#808080" stroke-width="2"/>
<line x1="193.73" y1="967" x2="193.73" y2="975.5" stroke="#808080" stroke-width="2"/>
<text transform="translate(194.03,1002.90) scale(1.0,1.03)" text-anchor="middle" font-family='"Liberation Sans", sans-serif' font-size="25.4">500</text>
<line x1="217.44" y1="967" x2="217.44" y2="972.5" stroke="#808080" stroke-width="2"/>
<line x1="241.15" y1="967" x2="241.15" y2="972.5" stroke="#808080" stroke-width="2"/>
<line x1="264.86" y1="967" x2="264.86" y2="972.5" stroke="#808080" stroke-width="2"/>
<line x1="288.57" y1="967" x2="288.57" y2="975.5" stroke="#808080" stroke-width="2"/>
<text transform="translate(288.87,1002.90) scale(1.0,1.03)" text-anchor="middle" font-family='"Liberation Sans", sans-serif' font-size="25.4">1000</text>
<line x1="312.27" y1="967" x2="312.27" y2="972.5" stroke="#808080" stroke-width="2"/>
<line x1="335.98" y1="967" x2="335.98" y2="972.5" stroke="#808080" stroke-width="2"/>
<line x1="359.69" y1="967" x2="359.69" y2="972.5" stroke="#808080" stroke-width="2"/>
<line x1="383.40" y1="967" x2="383.40" y2="975.5" stroke="#808080" stroke-width="2"/>
<text transform="translate(383.70,1002.90) scale(1.0,1.03)" text-anchor="middle" font-family='"Liberation Sans", sans-serif' font-size="25.4">1500</text>
<line x1="407.11" y1="967" x2="407.11" y2="972.5" stroke="#808080" stroke-width="2"/>
<line x1="430.82" y1="967" x2="430.82" y2="972.5" stroke="#808080" stroke-width="2"/>
<line x1="454.52" y1="967" x2="454.52" y2="972.5" stroke="#808080" stroke-width="2"/>
<line x1="478.23" y1="967" x2="478.23" y2="975.5" stroke="#808080" stroke-width="2"/>
<text transform="translate(478.53,1002.90) scale(1.0,1.03)" text-anchor="middle" font-family='"Liberation Sans", sans-serif' font-size="25.4">2000</text>
<line x1="501.94" y1="967" x2="501.94" y2="972.5" stroke="#808080" stroke-width="2"/>
<line x1="525.65" y1="967" x2="525.65" y2="972.5" stroke="#808080" stroke-width="2"/>
<line x1="549.36" y1="967" x2="549.36" y2="972.5" stroke="#808080" stroke-width="2"/>
<line x1="573.07" y1="967" x2="573.07" y2="975.5" stroke="#808080" stroke-width="2"/>
<text transform="translate(573.37,1002.90) scale(1.0,1.03)" text-anchor="middle" font-family='"Liberation Sans", sans-serif' font-size="25.4">2500</text>
<line x1="596.78" y1="967" x2="596.78" y2="972.5" stroke="#808080" stroke-width="2"/>
<line x1="620.48" y1="967" x2="620.48" y2="972.5" stroke="#808080" stroke-width="2"/>
<line x1="644.19" y1="967" x2="644.19" y2="972.5" stroke="#808080" stroke-width="2"/>
<line x1="667.90" y1="967" x2="667.90" y2="975.5" stroke="#808080" stroke-width="2"/>
<text transform="translate(668.20,1002.90) scale(1.0,1.03)" text-anchor="middle" font-family='"Liberation Sans", sans-serif' font-size="25.4">3000</text>
<line x1="691.61" y1="967" x2="691.61" y2="972.5" stroke="#808080" stroke-width="2"/>
<line x1="715.32" y1="967" x2="715.32" y2="972.5" stroke="#808080" stroke-width="2"/>
<line x1="739.02" y1="967" x2="739.02" y2="972.5" stroke="#808080" stroke-width="2"/>
<line x1="762.73" y1="967" x2="762.73" y2="975.5" stroke="#808080" stroke-width="2"/>
<text transform="translate(763.03,1002.90) scale(1.0,1.03)" text-anchor="middle" font-family='"Liberation Sans", sans-serif' font-size="25.4">3500</text>
<line x1="786.44" y1="967" x2="786.44" y2="972.5" stroke="#808080" stroke-width="2"/>
<line x1="810.15" y1="967" x2="810.15" y2="972.5" stroke="#808080" stroke-width="2"/>
<line x1="833.86" y1="967" x2="833.86" y2="972.5" stroke="#808080" stroke-width="2"/>
<line x1="857.57" y1="967" x2="857.57" y2="975.5" stroke="#808080" stroke-width="2"/>
<text transform="translate(857.87,1002.90) scale(1.0,1.03)" text-anchor="middle" font-family='"Liberation Sans", sans-serif' font-size="25.4">4000</text>
<line x1="881.27" y1="967" x2="881.27" y2="972.5" stroke="#808080" stroke-width="2"/>
<line x1="904.98" y1="967" x2="904.98" y2="972.5" stroke="#808080" stroke-width="2"/>
<line x1="928.69" y1="967" x2="928.69" y2="972.5" stroke="#808080" stroke-width="2"/>
<line x1="952.40" y1="967" x2="952.40" y2="975.5" stroke="#808080" stroke-width="2"/>
<text transform="translate(952.70,1002.90) scale(1.0,1.03)" text-anchor="middle" font-family='"Liberation Sans", sans-serif' font-size="25.4">4500</text>
<polyline clip-path="url(#c2)" points="101.0,923.8 106.2,922.1 110.5,923.8 113.9,922.1 117.4,926.4 122.5,926.9 126.0,928.1 132.0,925.5 137.2,928.1 143.2,929.3 151.8,929.3 156.1,932.4 159.5,930.7 163.8,930.7 169.0,933.3 174.2,935.5 177.6,930.7 182.8,929.8 187.9,932.4 198.3,932.4 201.7,928.1 208.6,925.5 212.9,921.2 217.2,928.1 222.3,929.8 227.5,933.3 231.8,935.5 236.1,935.9 240.4,941.0 244.7,944.5 249.9,940.2 257.6,936.7 267.1,936.7 268.4,935.9 272.7,931.6 277.0,928.1 281.3,929.8 287.4,935.0 292.5,939.3 298.6,943.6 302.9,942.7 307.2,939.3 310.6,946.2 314.0,946.2 318.3,943.6 322.6,939.3 326.1,939.3 329.5,932.4 333.8,926.4 338.1,924.7 342.4,920.4 349.3,911.8 352.8,910.9 356.2,907.5 359.6,910.0 364.0,905.7 367.4,911.8 371.7,915.2 376.0,912.6 379.4,910.9 383.7,916.6 388.9,917.8 392.3,917.8 395.8,921.2 401.8,919.5 406.1,916.6 409.6,917.8 413.0,916.6 416.4,920.7 419.9,919.5 425.0,917.8 428.5,917.8 431.9,916.6 435.4,920.4 438.4,921.2 443.6,919.5 447.9,921.2 452.2,924.2 455.7,920.4 460.0,923.8 464.3,928.1 469.4,935.0 474.6,936.7 478.9,944.5 483.2,949.6 489.2,953.9 494.4,959.1 498.7,961.3 503.8,962.0 510.7,963.4 517.6,964.2 524.5,963.4 531.4,960.8 538.3,957.4 546.9,952.2 553.7,946.2 558.9,941.0 565.8,937.6 572.7,936.7 577.0,939.3 580.4,936.7 586.4,935.9 591.6,932.4 595.0,935.0 598.5,929.8 602.8,931.0 605.4,927.3 609.3,919.5 613.6,911.8 617.9,913.5 622.2,910.9 629.1,910.9 634.3,907.5 641.1,900.6 644.6,904.9 649.7,904.9 654.0,908.0 660.1,908.0 664.4,904.9 667.8,908.0 671.3,906.6 675.6,910.9 680.7,913.1 684.2,916.1 687.6,922.9 692.8,927.3 698.8,932.4 702.2,939.3 706.5,941.0 713.4,953.1 720.3,954.4 725.5,955.6 728.9,954.4 733.2,956.5 740.9,956.5 744.4,960.8 751.3,959.6 758.2,959.6 762.5,956.2 766.8,956.2 771.1,951.3 775.4,948.2 779.3,943.6 784.5,936.7 792.2,928.1 796.5,925.5 800.8,920.4 804.3,919.5 807.7,922.9 812.0,921.2 815.4,914.3 819.7,910.9 823.2,914.3 830.9,903.2 837.0,898.0 842.1,892.8 849.0,889.4 854.2,892.5 858.5,892.0 861.9,889.4 867.9,896.6 872.2,894.6 877.4,892.0 881.7,889.4 886.0,889.7 889.4,890.8 892.0,887.7 895.5,894.9 900.6,896.3 907.5,904.9 911.8,915.2 914.4,923.8 919.6,931.6 925.6,929.8 929.0,936.7 934.2,940.2 939.3,946.2 945.4,946.5 950.0,945.3 952.4,942.2 956.2,944.7 959.9,946.6 964.9,955.9 968.0,955.9" fill="none" stroke="#60c400" stroke-width="3" stroke-linejoin="round" stroke-linecap="butt"/>
<polyline clip-path="url(#c2)" points="101.0,949.6 106.2,945.3 113.1,947.9 117.4,943.6 122.5,946.2 129.4,943.6 132.9,943.6 138.0,946.2 143.2,945.3 148.3,944.5 151.8,942.4 157.0,947.9 163.0,949.6 167.3,946.2 171.6,951.0 176.7,949.6 182.8,953.9 186.2,949.6 189.6,951.3 193.1,946.2 200.8,946.2 205.1,949.6 208.6,949.6 216.3,945.3 223.2,949.6 231.8,949.6 237.8,951.3 246.4,952.2 251.6,955.1 257.6,952.7 265.4,952.7 268.4,953.9 272.7,949.6 277.0,945.3 282.2,945.3 285.7,946.2 290.8,946.2 294.3,949.6 299.4,954.8 303.7,953.1 307.2,950.5 311.5,952.2 314.9,954.8 319.2,952.2 323.5,952.2 327.8,947.6 332.1,941.0 337.3,935.5 340.7,935.0 344.2,932.8 349.3,932.1 351.9,922.1 356.2,921.2 359.6,911.8 364.8,899.7 368.3,892.0 371.7,885.1 375.1,880.8 378.6,867.9 382.9,851.5 387.2,844.6 391.5,831.7 395.8,820.6 398.4,813.7 401.8,810.2 407.0,816.3 410.4,823.1 413.9,823.7 416.4,839.5 420.7,847.2 425.0,855.0 428.5,868.7 432.8,878.2 437.6,890.3 440.2,898.9 447.0,902.3 452.2,900.6 455.7,896.6 459.1,905.7 462.5,902.3 466.8,910.9 471.1,907.5 478.0,906.6 485.8,904.9 489.7,912.6 493.5,910.0 497.8,905.7 501.3,904.9 504.7,904.9 508.1,909.2 512.4,910.9 516.7,916.1 522.8,920.4 527.9,919.5 531.4,929.8 534.8,934.1 540.0,939.0 543.4,941.0 546.9,939.3 552.0,940.7 557.2,941.0 562.3,945.3 567.5,946.5 574.4,949.6 577.0,948.2 580.4,939.3 584.7,935.0 588.2,929.8 591.6,920.4 598.5,898.0 602.8,877.3 606.2,849.8 608.4,842.9 613.6,808.5 618.8,795.6 624.8,770.7 630.0,764.6 633.4,758.6 636.8,756.0 641.1,767.2 644.6,790.4 649.7,801.6 654.0,818.8 657.5,836.0 660.9,855.0 664.4,872.2 668.7,873.9 671.3,890.3 674.7,898.0 679.9,904.0 683.3,894.6 686.7,892.8 691.0,899.7 694.5,897.1 698.8,885.9 702.2,885.9 706.5,895.4 710.0,889.4 716.0,887.3 722.0,892.5 728.9,895.4 735.8,900.6 740.9,899.4 747.0,915.2 751.3,917.8 755.6,921.2 762.5,935.5 766.8,935.0 770.2,931.6 774.5,939.3 777.6,945.3 781.9,943.6 786.2,946.5 793.1,946.5 797.4,945.3 800.8,942.4 805.1,942.7 807.7,946.5 811.1,935.9 815.4,923.8 819.7,911.8 823.2,898.0 827.5,886.8 830.9,867.0 834.4,844.6 838.7,818.8 842.1,798.2 845.6,787.9 849.0,775.8 854.2,774.1 857.9,771.5 861.9,775.0 865.3,779.3 868.8,794.7 872.2,808.5 874.8,822.3 878.3,839.5 880.0,855.3 883.4,852.4 887.7,873.9 893.7,885.9 898.0,894.6 903.2,899.7 907.5,905.7 912.7,910.9 917.8,904.9 922.1,912.6 925.6,904.9 929.9,906.9 934.2,916.1 939.3,926.4 944.5,932.4 950.0,938.4 952.4,939.7 956.2,947.2 959.9,954.7 963.6,962.2 968.0,964.0" fill="none" stroke="#0060c8" stroke-width="3" stroke-linejoin="round" stroke-linecap="butt"/>
<polyline clip-path="url(#c2)" points="101.0,965.1 128.6,965.1 132.0,959.6 144.0,959.6 151.8,942.4 168.1,942.4 170.7,946.2 182.8,946.2 189.6,964.2 193.1,964.2 198.3,958.2 201.7,956.5 212.9,956.5 216.3,952.2 231.8,952.2 236.1,959.1 239.6,960.3 249.9,960.3 253.3,964.8 270.0,964.8 270.2,964.2 277.0,959.1 308.0,959.1 311.5,960.8 314.9,964.8 326.1,964.8 329.5,953.9 333.0,952.7 345.9,952.7 350.2,950.5 352.8,946.2 359.6,946.2 364.0,932.4 367.4,943.6 370.8,945.3 379.4,945.3 382.9,938.4 386.3,939.3 391.5,934.1 394.1,917.8 398.4,913.1 401.8,929.8 406.1,922.1 410.4,922.1 414.7,920.4 418.2,922.1 421.6,928.1 426.8,929.0 431.9,932.4 436.2,935.0 443.6,935.0 447.0,928.1 451.3,929.0 462.5,929.0 466.8,936.7 470.3,948.8 477.2,949.6 484.9,964.8 500.4,964.8 505.6,963.4 511.6,963.4 515.9,956.2 538.3,956.2 543.4,958.2 550.3,958.2 553.7,963.7 567.5,963.7 574.4,965.1 588.2,965.1 595.0,945.3 602.8,945.3 607.1,937.6 607.6,938.4 610.2,907.5 614.5,901.4 618.8,884.2 622.2,861.9 625.7,838.6 630.0,845.5 634.3,852.4 640.3,834.3 644.6,834.3 648.9,853.3 652.3,845.5 656.6,844.3 660.1,867.0 664.4,889.4 667.8,876.5 671.3,877.3 674.7,885.1 679.9,894.6 684.2,903.2 688.5,915.2 691.9,927.3 694.5,945.3 701.4,945.3 705.7,959.1 710.0,963.4 716.9,964.2 742.7,964.2 751.3,965.1 766.8,965.1 771.1,963.4 806.0,964.2 808.6,965.1 818.9,964.2 822.3,950.5 826.6,943.6 831.8,939.3 835.2,929.0 837.0,911.8 838.7,892.8 843.0,877.3 846.4,873.0 849.0,842.9 853.3,830.9 857.6,816.3 861.0,816.3 864.5,813.7 868.8,804.7 873.1,810.2 876.5,830.9 880.0,849.8 883.4,832.3 886.0,844.6 889.4,857.6 893.7,870.5 897.2,887.7 903.2,890.8 907.5,900.6 911.8,906.6 914.4,918.6 918.7,920.4 924.7,941.9 929.0,942.7 933.3,946.2 937.6,949.6 941.1,957.4 944.5,958.2 950.0,958.2 954.9,957.8 958.7,963.4 962.4,964.7 968.0,964.7" fill="none" stroke="#c80000" stroke-width="3" stroke-linejoin="round" stroke-linecap="butt"/>
<rect x="99" y="754" width="870" height="213" fill="none" stroke="#000" stroke-width="2" stroke-linejoin="round"/>
<line x1="124" y1="785.6" x2="148" y2="785.6" stroke="#c80000" stroke-width="4" stroke-linecap="round"/>
<text transform="translate(158.60,795.10) scale(1.0,1.057)" fill="#c80000" font-family='"Liberation Sans", sans-serif' font-size="25.2">Pattern 323</text>
<line x1="124" y1="815.6" x2="148" y2="815.6" stroke="#0060c8" stroke-width="4" stroke-linecap="round"/>
<text transform="translate(158.60,825.10) scale(1.0,1.057)" fill="#0060c8" font-family='"Liberation Sans", sans-serif' font-size="25.2">Neuron 22</text>
<line x1="124" y1="845.6" x2="148" y2="845.6" stroke="#60c400" stroke-width="4" stroke-linecap="round"/>
<text transform="translate(158.60,855.10) scale(1.0,1.057)" fill="#60c400" font-family='"Liberation Sans", sans-serif' font-size="25.2">Neuron 20</text>
<text transform="translate(969.60,745.60) scale(1.0,1.09)" text-anchor="end" fill="#999" font-family='"Liberation Sans", sans-serif' font-size="20.4">col05-e08_S1</text>
<text transform="translate(27.20,859.50) rotate(-90) scale(1.0,1.045)" text-anchor="middle" font-family='"Liberation Sans", sans-serif' font-size="33.8">Rate [Hz]</text>
<rect x="996.5" y="755.30" width="15" height="7.48" fill="rgb(250,250,250)"/>
<rect x="996.5" y="763.38" width="15" height="7.48" fill="rgb(245,245,245)"/>
<rect x="996.5" y="771.45" width="15" height="7.48" fill="rgb(245,245,245)"/>
<rect x="996.5" y="779.53" width="15" height="7.48" fill="rgb(240,240,240)"/>
<rect x="995" y="787.61" width="18" height="7.48" fill="rgb(6,6,6)"/>
<rect x="996.5" y="795.68" width="15" height="7.48" fill="rgb(252,252,252)"/>
<rect x="995" y="803.76" width="18" height="7.48" fill="rgb(47,47,47)"/>
<rect x="996.5" y="811.84" width="15" height="7.48" fill="rgb(238,238,238)"/>
<rect x="996.5" y="819.92" width="15" height="7.48" fill="rgb(221,221,221)"/>
<rect x="996.5" y="827.99" width="15" height="7.48" fill="rgb(252,252,252)"/>
<rect x="996.5" y="836.07" width="15" height="7.48" fill="rgb(246,246,246)"/>
<rect x="996.5" y="844.15" width="15" height="7.48" fill="rgb(252,252,252)"/>
<rect x="996.5" y="852.22" width="15" height="7.48" fill="rgb(248,248,248)"/>
<rect x="996.5" y="860.30" width="15" height="7.48" fill="rgb(230,230,230)"/>
<rect x="996.5" y="876.45" width="15" height="7.48" fill="rgb(244,244,244)"/>
<rect x="996.5" y="884.53" width="15" height="7.48" fill="rgb(244,244,244)"/>
<rect x="996.5" y="892.61" width="15" height="7.48" fill="rgb(244,244,244)"/>
<rect x="996.5" y="900.68" width="15" height="7.48" fill="rgb(250,250,250)"/>
<rect x="996.5" y="908.76" width="15" height="7.48" fill="rgb(230,230,230)"/>
<rect x="996.5" y="916.84" width="15" height="7.48" fill="rgb(251,251,251)"/>
<rect x="996.5" y="924.92" width="15" height="7.48" fill="rgb(246,246,246)"/>
<rect x="996.5" y="932.99" width="15" height="7.48" fill="rgb(252,252,252)"/>
<rect x="996.5" y="941.07" width="15" height="7.48" fill="rgb(244,244,244)"/>
<rect x="996.5" y="949.15" width="15" height="7.48" fill="rgb(244,244,244)"/>
<rect x="996.5" y="957.22" width="15" height="7.48" fill="rgb(238,238,238)"/>
<rect x="995" y="754" width="18" height="213" fill="none" stroke="#000" stroke-width="2" stroke-linejoin="round"/>
<clipPath id="c3"><rect x="99" y="1054" width="870" height="213"/></clipPath>
<line x1="90" y1="1266.30" x2="99" y2="1266.30" stroke="#808080" stroke-width="2"/>
<text transform="translate(84.60,1275.60) scale(1.0,1.08)" text-anchor="end" font-family='"Liberation Sans", sans-serif' font-size="25.2">0</text>
<line x1="93.5" y1="1257.32" x2="99" y2="1257.32" stroke="#808080" stroke-width="2"/>
<line x1="93.5" y1="1248.33" x2="99" y2="1248.33" stroke="#808080" stroke-width="2"/>
<line x1="93.5" y1="1239.35" x2="99" y2="1239.35" stroke="#808080" stroke-width="2"/>
<line x1="90" y1="1230.37" x2="99" y2="1230.37" stroke="#808080" stroke-width="2"/>
<text transform="translate(84.60,1239.67) scale(1.0,1.08)" text-anchor="end" font-family='"Liberation Sans", sans-serif' font-size="25.2">5</text>
<line x1="93.5" y1="1221.38" x2="99" y2="1221.38" stroke="#808080" stroke-width="2"/>
<line x1="93.5" y1="1212.40" x2="99" y2="1212.40" stroke="#808080" stroke-width="2"/>
<line x1="93.5" y1="1203.41" x2="99" y2="1203.41" stroke="#808080" stroke-width="2"/>
<line x1="90" y1="1194.43" x2="99" y2="1194.43" stroke="#808080" stroke-width="2"/>
<text transform="translate(84.60,1203.73) scale(1.0,1.08)" text-anchor="end" font-family='"Liberation Sans", sans-serif' font-size="25.2">10</text>
<line x1="93.5" y1="1185.45" x2="99" y2="1185.45" stroke="#808080" stroke-width="2"/>
<line x1="93.5" y1="1176.46" x2="99" y2="1176.46" stroke="#808080" stroke-width="2"/>
<line x1="93.5" y1="1167.48" x2="99" y2="1167.48" stroke="#808080" stroke-width="2"/>
<line x1="90" y1="1158.50" x2="99" y2="1158.50" stroke="#808080" stroke-width="2"/>
<text transform="translate(84.60,1167.80) scale(1.0,1.08)" text-anchor="end" font-family='"Liberation Sans", sans-serif' font-size="25.2">15</text>
<line x1="93.5" y1="1149.51" x2="99" y2="1149.51" stroke="#808080" stroke-width="2"/>
<line x1="93.5" y1="1140.53" x2="99" y2="1140.53" stroke="#808080" stroke-width="2"/>
<line x1="93.5" y1="1131.55" x2="99" y2="1131.55" stroke="#808080" stroke-width="2"/>
<line x1="90" y1="1122.56" x2="99" y2="1122.56" stroke="#808080" stroke-width="2"/>
<text transform="translate(84.60,1131.86) scale(1.0,1.08)" text-anchor="end" font-family='"Liberation Sans", sans-serif' font-size="25.2">20</text>
<line x1="93.5" y1="1113.58" x2="99" y2="1113.58" stroke="#808080" stroke-width="2"/>
<line x1="93.5" y1="1104.60" x2="99" y2="1104.60" stroke="#808080" stroke-width="2"/>
<line x1="93.5" y1="1095.61" x2="99" y2="1095.61" stroke="#808080" stroke-width="2"/>
<line x1="90" y1="1086.63" x2="99" y2="1086.63" stroke="#808080" stroke-width="2"/>
<text transform="translate(84.60,1095.93) scale(1.0,1.08)" text-anchor="end" font-family='"Liberation Sans", sans-serif' font-size="25.2">25</text>
<line x1="93.5" y1="1077.64" x2="99" y2="1077.64" stroke="#808080" stroke-width="2"/>
<line x1="93.5" y1="1068.66" x2="99" y2="1068.66" stroke="#808080" stroke-width="2"/>
<line x1="93.5" y1="1059.68" x2="99" y2="1059.68" stroke="#808080" stroke-width="2"/>
<line x1="98.90" y1="1267" x2="98.90" y2="1275.5" stroke="#808080" stroke-width="2"/>
<text transform="translate(99.20,1302.90) scale(1.0,1.03)" text-anchor="middle" font-family='"Liberation Sans", sans-serif' font-size="25.4">0</text>
<line x1="122.61" y1="1267" x2="122.61" y2="1272.5" stroke="#808080" stroke-width="2"/>
<line x1="146.32" y1="1267" x2="146.32" y2="1272.5" stroke="#808080" stroke-width="2"/>
<line x1="170.03" y1="1267" x2="170.03" y2="1272.5" stroke="#808080" stroke-width="2"/>
<line x1="193.73" y1="1267" x2="193.73" y2="1275.5" stroke="#808080" stroke-width="2"/>
<text transform="translate(194.03,1302.90) scale(1.0,1.03)" text-anchor="middle" font-family='"Liberation Sans", sans-serif' font-size="25.4">500</text>
<line x1="217.44" y1="1267" x2="217.44" y2="1272.5" stroke="#808080" stroke-width="2"/>
<line x1="241.15" y1="1267" x2="241.15" y2="1272.5" stroke="#808080" stroke-width="2"/>
<line x1="264.86" y1="1267" x2="264.86" y2="1272.5" stroke="#808080" stroke-width="2"/>
<line x1="288.57" y1="1267" x2="288.57" y2="1275.5" stroke="#808080" stroke-width="2"/>
<text transform="translate(288.87,1302.90) scale(1.0,1.03)" text-anchor="middle" font-family='"Liberation Sans", sans-serif' font-size="25.4">1000</text>
<line x1="312.27" y1="1267" x2="312.27" y2="1272.5" stroke="#808080" stroke-width="2"/>
<line x1="335.98" y1="1267" x2="335.98" y2="1272.5" stroke="#808080" stroke-width="2"/>
<line x1="359.69" y1="1267" x2="359.69" y2="1272.5" stroke="#808080" stroke-width="2"/>
<line x1="383.40" y1="1267" x2="383.40" y2="1275.5" stroke="#808080" stroke-width="2"/>
<text transform="translate(383.70,1302.90) scale(1.0,1.03)" text-anchor="middle" font-family='"Liberation Sans", sans-serif' font-size="25.4">1500</text>
<line x1="407.11" y1="1267" x2="407.11" y2="1272.5" stroke="#808080" stroke-width="2"/>
<line x1="430.82" y1="1267" x2="430.82" y2="1272.5" stroke="#808080" stroke-width="2"/>
<line x1="454.52" y1="1267" x2="454.52" y2="1272.5" stroke="#808080" stroke-width="2"/>
<line x1="478.23" y1="1267" x2="478.23" y2="1275.5" stroke="#808080" stroke-width="2"/>
<text transform="translate(478.53,1302.90) scale(1.0,1.03)" text-anchor="middle" font-family='"Liberation Sans", sans-serif' font-size="25.4">2000</text>
<line x1="501.94" y1="1267" x2="501.94" y2="1272.5" stroke="#808080" stroke-width="2"/>
<line x1="525.65" y1="1267" x2="525.65" y2="1272.5" stroke="#808080" stroke-width="2"/>
<line x1="549.36" y1="1267" x2="549.36" y2="1272.5" stroke="#808080" stroke-width="2"/>
<line x1="573.07" y1="1267" x2="573.07" y2="1275.5" stroke="#808080" stroke-width="2"/>
<text transform="translate(573.37,1302.90) scale(1.0,1.03)" text-anchor="middle" font-family='"Liberation Sans", sans-serif' font-size="25.4">2500</text>
<line x1="596.78" y1="1267" x2="596.78" y2="1272.5" stroke="#808080" stroke-width="2"/>
<line x1="620.48" y1="1267" x2="620.48" y2="1272.5" stroke="#808080" stroke-width="2"/>
<line x1="644.19" y1="1267" x2="644.19" y2="1272.5" stroke="#808080" stroke-width="2"/>
<line x1="667.90" y1="1267" x2="667.90" y2="1275.5" stroke="#808080" stroke-width="2"/>
<text transform="translate(668.20,1302.90) scale(1.0,1.03)" text-anchor="middle" font-family='"Liberation Sans", sans-serif' font-size="25.4">3000</text>
<line x1="691.61" y1="1267" x2="691.61" y2="1272.5" stroke="#808080" stroke-width="2"/>
<line x1="715.32" y1="1267" x2="715.32" y2="1272.5" stroke="#808080" stroke-width="2"/>
<line x1="739.02" y1="1267" x2="739.02" y2="1272.5" stroke="#808080" stroke-width="2"/>
<line x1="762.73" y1="1267" x2="762.73" y2="1275.5" stroke="#808080" stroke-width="2"/>
<text transform="translate(763.03,1302.90) scale(1.0,1.03)" text-anchor="middle" font-family='"Liberation Sans", sans-serif' font-size="25.4">3500</text>
<line x1="786.44" y1="1267" x2="786.44" y2="1272.5" stroke="#808080" stroke-width="2"/>
<line x1="810.15" y1="1267" x2="810.15" y2="1272.5" stroke="#808080" stroke-width="2"/>
<line x1="833.86" y1="1267" x2="833.86" y2="1272.5" stroke="#808080" stroke-width="2"/>
<line x1="857.57" y1="1267" x2="857.57" y2="1275.5" stroke="#808080" stroke-width="2"/>
<text transform="translate(857.87,1302.90) scale(1.0,1.03)" text-anchor="middle" font-family='"Liberation Sans", sans-serif' font-size="25.4">4000</text>
<line x1="881.27" y1="1267" x2="881.27" y2="1272.5" stroke="#808080" stroke-width="2"/>
<line x1="904.98" y1="1267" x2="904.98" y2="1272.5" stroke="#808080" stroke-width="2"/>
<line x1="928.69" y1="1267" x2="928.69" y2="1272.5" stroke="#808080" stroke-width="2"/>
<line x1="952.40" y1="1267" x2="952.40" y2="1275.5" stroke="#808080" stroke-width="2"/>
<text transform="translate(952.70,1302.90) scale(1.0,1.03)" text-anchor="middle" font-family='"Liberation Sans", sans-serif' font-size="25.4">4500</text>
<polyline clip-path="url(#c3)" points="101.0,1235.5 107.0,1233.8 112.2,1234.1 117.4,1223.8 121.7,1228.1 125.1,1236.2 131.1,1237.6 137.2,1240.7 140.6,1235.5 148.3,1235.5 153.5,1238.4 157.0,1244.5 162.1,1243.6 167.3,1236.7 170.7,1227.3 174.2,1226.4 177.6,1219.5 182.8,1216.6 185.3,1219.5 190.5,1213.5 194.8,1212.6 199.1,1214.3 203.4,1222.9 207.7,1229.8 212.0,1228.1 216.3,1243.6 220.6,1248.2 227.5,1248.2 231.8,1249.6 234.4,1241.9 237.8,1242.7 243.0,1241.0 246.4,1235.9 253.3,1229.8 257.6,1209.2 261.1,1208.3 265.4,1186.8 269.3,1186.8 273.6,1192.5 277.0,1188.5 280.5,1188.5 283.9,1198.0 289.1,1202.3 292.5,1202.3 296.0,1215.2 299.4,1214.3 303.7,1241.0 307.2,1228.1 311.5,1222.9 314.9,1220.4 319.2,1219.5 322.6,1212.6 327.8,1208.3 331.3,1204.9 334.7,1201.1 338.1,1205.7 341.2,1193.2 344.2,1204.9 349.3,1206.6 352.8,1213.5 356.2,1213.5 359.6,1212.1 365.7,1212.1 370.0,1214.3 371.7,1216.6 374.3,1209.2 379.4,1213.5 383.7,1211.8 387.2,1215.5 391.5,1208.0 395.8,1210.0 398.4,1215.5 401.8,1209.2 407.0,1206.6 410.4,1213.5 413.9,1213.8 417.3,1216.9 421.6,1215.5 424.2,1205.7 428.5,1198.9 431.9,1192.0 437.1,1187.7 437.6,1187.7 442.7,1192.8 447.9,1185.9 452.2,1186.8 457.4,1187.3 462.5,1191.1 466.8,1201.4 470.3,1202.3 474.6,1198.0 480.6,1198.9 485.8,1205.7 491.8,1206.9 497.0,1206.3 501.3,1208.3 504.7,1199.7 509.0,1201.1 512.4,1206.6 515.9,1202.3 519.3,1193.7 522.8,1192.5 527.9,1183.4 531.4,1179.1 535.7,1172.2 538.3,1172.5 543.4,1177.3 548.6,1178.2 553.7,1179.4 557.2,1179.4 561.5,1178.2 568.4,1192.0 573.5,1194.6 577.0,1199.4 580.4,1198.3 583.9,1191.1 588.2,1192.5 591.6,1186.8 595.9,1194.6 599.3,1199.7 603.6,1198.0 607.1,1195.4 608.4,1195.4 613.6,1191.1 617.9,1193.7 622.2,1198.0 625.7,1198.3 630.0,1205.7 634.3,1204.9 637.7,1193.7 641.1,1192.0 644.6,1185.1 651.5,1186.8 655.8,1179.1 660.1,1180.8 664.4,1177.7 668.7,1178.2 672.1,1180.8 675.6,1185.9 679.0,1187.7 686.7,1185.1 691.0,1177.3 694.5,1172.5 697.9,1159.3 701.4,1163.6 706.5,1151.5 710.0,1148.4 714.3,1142.6 721.2,1140.9 728.9,1145.5 732.3,1157.6 736.6,1170.5 740.1,1163.6 743.5,1176.5 747.8,1171.8 752.1,1169.1 755.6,1169.1 759.0,1156.7 762.5,1156.7 767.6,1159.3 770.2,1144.6 774.5,1142.1 777.1,1142.9 777.6,1143.8 781.9,1138.1 786.2,1143.8 792.2,1143.8 797.4,1167.0 800.8,1159.3 805.1,1167.0 807.7,1185.1 812.0,1185.9 816.3,1192.8 823.2,1193.7 827.5,1205.7 831.8,1208.0 834.4,1206.6 837.8,1219.5 842.1,1214.3 846.4,1209.2 849.9,1209.7 853.3,1212.6 857.6,1210.0 861.0,1207.5 864.5,1198.0 868.8,1198.9 873.1,1193.7 876.5,1183.4 880.0,1180.4 883.4,1173.6 887.7,1172.5 892.0,1169.6 897.2,1173.0 902.3,1173.6 905.8,1168.7 910.1,1163.9 914.4,1165.6 918.7,1167.4 922.1,1169.6 926.4,1163.2 929.9,1163.6 933.3,1165.6 936.8,1166.2 940.2,1179.1 941.2,1181.0 946.2,1188.5 949.9,1194.8 953.7,1201.0 956.2,1202.9 959.3,1201.0 962.4,1209.7 964.9,1212.2 968.0,1209.1" fill="none" stroke="#60c400" stroke-width="3" stroke-linejoin="round" stroke-linecap="butt"/>
<polyline clip-path="url(#c3)" points="101.0,1179.1 106.2,1183.4 110.5,1192.8 117.4,1179.1 121.7,1173.0 125.1,1192.0 129.4,1198.3 132.9,1195.4 140.6,1206.6 144.9,1207.5 147.5,1215.2 156.1,1229.0 159.5,1229.8 167.3,1229.8 170.7,1235.5 177.6,1221.7 181.9,1223.8 189.6,1222.1 193.1,1212.6 197.4,1209.7 205.1,1215.2 212.0,1216.1 217.2,1222.4 219.8,1222.1 223.2,1216.6 228.4,1216.6 231.8,1229.0 235.3,1229.8 243.0,1224.2 246.4,1228.1 251.6,1222.9 257.6,1221.2 261.9,1226.4 266.2,1232.8 268.4,1233.3 272.7,1235.0 277.0,1236.7 280.5,1241.0 283.9,1241.0 288.2,1248.8 292.5,1252.2 296.0,1255.6 299.4,1255.6 303.7,1251.0 307.2,1251.0 310.6,1256.5 314.9,1258.6 326.1,1258.6 329.5,1259.6 333.8,1259.6 339.0,1263.4 344.2,1264.2 351.0,1264.2 357.9,1263.4 364.0,1263.4 370.0,1262.5 375.1,1259.1 382.0,1256.5 386.3,1254.8 395.8,1254.8 399.2,1256.5 402.7,1254.8 406.1,1254.8 410.4,1256.5 414.7,1258.2 418.2,1258.2 421.6,1259.6 425.9,1257.9 430.2,1253.1 434.5,1244.5 437.6,1238.4 441.0,1222.1 444.5,1196.3 447.9,1173.9 452.2,1149.8 455.7,1122.3 458.2,1085.3 461.7,1069.8 466.0,1063.8 470.3,1056.9 474.6,1063.8 478.0,1081.0 482.3,1101.6 486.6,1124.0 490.1,1151.5 493.5,1180.8 497.0,1213.5 500.4,1233.3 504.7,1244.5 508.1,1255.1 515.0,1256.2 521.9,1259.1 527.9,1262.5 533.1,1263.4 538.3,1262.0 543.4,1262.0 546.5,1259.1 550.3,1262.5 572.7,1262.5 581.3,1264.2 605.4,1264.8 615.3,1263.4 622.2,1259.1 627.4,1258.6 630.8,1257.4 637.7,1257.4 641.1,1256.2 646.3,1257.9 654.9,1258.2 656.6,1259.6 659.2,1251.3 664.4,1243.6 667.8,1229.0 671.3,1206.6 673.8,1170.5 679.0,1153.3 683.3,1124.0 686.7,1112.8 691.0,1079.3 694.5,1068.9 697.9,1065.1 702.2,1069.8 706.5,1079.3 710.0,1099.9 713.4,1137.8 717.7,1160.1 721.2,1184.2 725.5,1196.3 728.0,1229.0 732.3,1241.0 736.6,1252.2 740.9,1256.5 746.1,1262.0 751.3,1262.5 755.6,1259.1 766.8,1259.1 770.2,1257.4 785.3,1258.2 788.8,1256.2 792.2,1258.2 797.4,1256.2 811.1,1256.2 816.3,1258.6 842.1,1258.6 846.4,1259.9 850.7,1259.6 854.2,1258.2 858.5,1258.6 862.8,1259.9 868.8,1259.9 873.1,1262.5 876.5,1259.9 880.0,1258.6 884.3,1252.2 888.6,1248.8 892.0,1245.3 895.5,1235.0 898.9,1220.4 902.3,1201.4 905.8,1173.9 907.5,1149.8 910.9,1130.9 913.5,1112.8 917.8,1099.9 922.1,1087.0 926.4,1080.1 929.9,1081.0 934.2,1093.9 937.6,1113.7 941.1,1137.8 944.5,1163.6 946.2,1176.0 949.9,1187.3 953.7,1216.0 956.8,1227.2 959.9,1240.9 963.6,1254.7 968.0,1260.9" fill="none" stroke="#0060c8" stroke-width="3" stroke-linejoin="round" stroke-linecap="butt"/>
<polyline clip-path="url(#c3)" points="101.0,1256.5 110.5,1256.5 117.4,1219.5 137.2,1219.5 140.6,1228.1 148.3,1228.1 155.2,1264.8 176.7,1264.8 181.9,1255.1 213.7,1255.1 217.2,1256.5 220.6,1264.8 270.0,1264.8 455.7,1264.8 459.1,1263.4 493.5,1263.4 497.0,1264.8 610.0,1264.8 656.6,1264.8 659.2,1259.6 667.0,1259.1 671.3,1243.6 674.7,1243.6 679.0,1232.4 683.3,1222.1 686.7,1222.1 691.0,1198.0 694.5,1192.5 698.8,1198.0 706.5,1199.4 710.0,1213.5 713.4,1214.3 716.9,1226.4 721.2,1235.0 725.5,1235.0 728.0,1259.9 731.5,1264.8 780.0,1264.8 903.2,1264.8 905.8,1239.3 910.1,1213.5 913.5,1184.2 917.8,1178.2 921.3,1159.3 941.1,1159.3 943.7,1181.0 948.0,1203.5 952.4,1242.2 955.5,1247.2 958.7,1264.7 968.0,1264.7" fill="none" stroke="#c80000" stroke-width="3" stroke-linejoin="round" stroke-linecap="butt"/>
<rect x="99" y="1054" width="870" height="213" fill="none" stroke="#000" stroke-width="2" stroke-linejoin="round"/>
<line x1="124" y1="1085.6" x2="148" y2="1085.6" stroke="#c80000" stroke-width="4" stroke-linecap="round"/>
<text transform="translate(158.60,1095.10) scale(1.0,1.057)" fill="#c80000" font-family='"Liberation Sans", sans-serif' font-size="25.2">Pattern 437</text>
<line x1="124" y1="1115.6" x2="148" y2="1115.6" stroke="#0060c8" stroke-width="4" stroke-linecap="round"/>
<text transform="translate(158.60,1125.10) scale(1.0,1.057)" fill="#0060c8" font-family='"Liberation Sans", sans-serif' font-size="25.2">Neuron 16</text>
<line x1="124" y1="1145.6" x2="148" y2="1145.6" stroke="#60c400" stroke-width="4" stroke-linecap="round"/>
<text transform="translate(158.60,1155.10) scale(1.0,1.057)" fill="#60c400" font-family='"Liberation Sans", sans-serif' font-size="25.2">Neuron 13</text>
<text transform="translate(969.60,1045.60) scale(1.0,1.09)" text-anchor="end" fill="#999" font-family='"Liberation Sans", sans-serif' font-size="20.4">col05-e08_S1</text>
<text transform="translate(27.20,1159.50) rotate(-90) scale(1.0,1.045)" text-anchor="middle" font-family='"Liberation Sans", sans-serif' font-size="33.8">Rate [Hz]</text>
<rect x="996.5" y="1063.38" width="15" height="7.48" fill="rgb(250,250,250)"/>
<rect x="996.5" y="1071.45" width="15" height="7.48" fill="rgb(250,250,250)"/>
<rect x="996.5" y="1079.53" width="15" height="7.48" fill="rgb(250,250,250)"/>
<rect x="996.5" y="1087.61" width="15" height="7.48" fill="rgb(250,250,250)"/>
<rect x="996.5" y="1103.76" width="15" height="7.48" fill="rgb(243,243,243)"/>
<rect x="996.5" y="1111.84" width="15" height="7.48" fill="rgb(243,243,243)"/>
<rect x="996.5" y="1119.92" width="15" height="7.48" fill="rgb(223,223,223)"/>
<rect x="996.5" y="1127.99" width="15" height="7.48" fill="rgb(252,252,252)"/>
<rect x="995" y="1136.07" width="18" height="7.48" fill="rgb(0,0,0)"/>
<rect x="996.5" y="1144.15" width="15" height="7.48" fill="rgb(250,250,250)"/>
<rect x="996.5" y="1152.22" width="15" height="7.48" fill="rgb(243,243,243)"/>
<rect x="995" y="1160.30" width="18" height="7.48" fill="rgb(102,102,102)"/>
<rect x="996.5" y="1168.38" width="15" height="7.48" fill="rgb(252,252,252)"/>
<rect x="996.5" y="1176.45" width="15" height="7.48" fill="rgb(218,218,218)"/>
<rect x="996.5" y="1184.53" width="15" height="7.48" fill="rgb(248,248,248)"/>
<rect x="996.5" y="1192.61" width="15" height="7.48" fill="rgb(243,243,243)"/>
<rect x="996.5" y="1200.68" width="15" height="7.48" fill="rgb(252,252,252)"/>
<rect x="996.5" y="1208.76" width="15" height="7.48" fill="rgb(244,244,244)"/>
<rect x="996.5" y="1216.84" width="15" height="7.48" fill="rgb(248,248,248)"/>
<rect x="996.5" y="1232.99" width="15" height="7.48" fill="rgb(248,248,248)"/>
<rect x="996.5" y="1241.07" width="15" height="7.48" fill="rgb(235,235,235)"/>
<rect x="996.5" y="1249.15" width="15" height="7.48" fill="rgb(235,235,235)"/>
<rect x="996.5" y="1257.22" width="15" height="7.48" fill="rgb(242,242,242)"/>
<rect x="995" y="1054" width="18" height="213" fill="none" stroke="#000" stroke-width="2" stroke-linejoin="round"/>
<clipPath id="c4"><rect x="99" y="1443" width="870" height="213"/></clipPath>
<line x1="90" y1="1655.30" x2="99" y2="1655.30" stroke="#808080" stroke-width="2"/>
<text transform="translate(84.60,1664.60) scale(1.0,1.08)" text-anchor="end" font-family='"Liberation Sans", sans-serif' font-size="25.2">0</text>
<line x1="93.5" y1="1641.06" x2="99" y2="1641.06" stroke="#808080" stroke-width="2"/>
<line x1="93.5" y1="1626.83" x2="99" y2="1626.83" stroke="#808080" stroke-width="2"/>
<line x1="93.5" y1="1612.59" x2="99" y2="1612.59" stroke="#808080" stroke-width="2"/>
<line x1="90" y1="1598.35" x2="99" y2="1598.35" stroke="#808080" stroke-width="2"/>
<text transform="translate(84.60,1607.65) scale(1.0,1.08)" text-anchor="end" font-family='"Liberation Sans", sans-serif' font-size="25.2">5</text>
<line x1="93.5" y1="1584.12" x2="99" y2="1584.12" stroke="#808080" stroke-width="2"/>
<line x1="93.5" y1="1569.88" x2="99" y2="1569.88" stroke="#808080" stroke-width="2"/>
<line x1="93.5" y1="1555.64" x2="99" y2="1555.64" stroke="#808080" stroke-width="2"/>
<line x1="90" y1="1541.41" x2="99" y2="1541.41" stroke="#808080" stroke-width="2"/>
<text transform="translate(84.60,1550.71) scale(1.0,1.08)" text-anchor="end" font-family='"Liberation Sans", sans-serif' font-size="25.2">10</text>
<line x1="93.5" y1="1527.17" x2="99" y2="1527.17" stroke="#808080" stroke-width="2"/>
<line x1="93.5" y1="1512.93" x2="99" y2="1512.93" stroke="#808080" stroke-width="2"/>
<line x1="93.5" y1="1498.69" x2="99" y2="1498.69" stroke="#808080" stroke-width="2"/>
<line x1="90" y1="1484.46" x2="99" y2="1484.46" stroke="#808080" stroke-width="2"/>
<text transform="translate(84.60,1493.76) scale(1.0,1.08)" text-anchor="end" font-family='"Liberation Sans", sans-serif' font-size="25.2">15</text>
<line x1="93.5" y1="1470.22" x2="99" y2="1470.22" stroke="#808080" stroke-width="2"/>
<line x1="93.5" y1="1455.98" x2="99" y2="1455.98" stroke="#808080" stroke-width="2"/>
<line x1="98.90" y1="1656" x2="98.90" y2="1664.5" stroke="#808080" stroke-width="2"/>
<text transform="translate(99.20,1691.90) scale(1.0,1.03)" text-anchor="middle" font-family='"Liberation Sans", sans-serif' font-size="25.4">0</text>
<line x1="122.61" y1="1656" x2="122.61" y2="1661.5" stroke="#808080" stroke-width="2"/>
<line x1="146.32" y1="1656" x2="146.32" y2="1661.5" stroke="#808080" stroke-width="2"/>
<line x1="170.03" y1="1656" x2="170.03" y2="1661.5" stroke="#808080" stroke-width="2"/>
<line x1="193.73" y1="1656" x2="193.73" y2="1664.5" stroke="#808080" stroke-width="2"/>
<text transform="translate(194.03,1691.90) scale(1.0,1.03)" text-anchor="middle" font-family='"Liberation Sans", sans-serif' font-size="25.4">500</text>
<line x1="217.44" y1="1656" x2="217.44" y2="1661.5" stroke="#808080" stroke-width="2"/>
<line x1="241.15" y1="1656" x2="241.15" y2="1661.5" stroke="#808080" stroke-width="2"/>
<line x1="264.86" y1="1656" x2="264.86" y2="1661.5" stroke="#808080" stroke-width="2"/>
<line x1="288.57" y1="1656" x2="288.57" y2="1664.5" stroke="#808080" stroke-width="2"/>
<text transform="translate(288.87,1691.90) scale(1.0,1.03)" text-anchor="middle" font-family='"Liberation Sans", sans-serif' font-size="25.4">1000</text>
<line x1="312.27" y1="1656" x2="312.27" y2="1661.5" stroke="#808080" stroke-width="2"/>
<line x1="335.98" y1="1656" x2="335.98" y2="1661.5" stroke="#808080" stroke-width="2"/>
<line x1="359.69" y1="1656" x2="359.69" y2="1661.5" stroke="#808080" stroke-width="2"/>
<line x1="383.40" y1="1656" x2="383.40" y2="1664.5" stroke="#808080" stroke-width="2"/>
<text transform="translate(383.70,1691.90) scale(1.0,1.03)" text-anchor="middle" font-family='"Liberation Sans", sans-serif' font-size="25.4">1500</text>
<line x1="407.11" y1="1656" x2="407.11" y2="1661.5" stroke="#808080" stroke-width="2"/>
<line x1="430.82" y1="1656" x2="430.82" y2="1661.5" stroke="#808080" stroke-width="2"/>
<line x1="454.52" y1="1656" x2="454.52" y2="1661.5" stroke="#808080" stroke-width="2"/>
<line x1="478.23" y1="1656" x2="478.23" y2="1664.5" stroke="#808080" stroke-width="2"/>
<text transform="translate(478.53,1691.90) scale(1.0,1.03)" text-anchor="middle" font-family='"Liberation Sans", sans-serif' font-size="25.4">2000</text>
<line x1="501.94" y1="1656" x2="501.94" y2="1661.5" stroke="#808080" stroke-width="2"/>
<line x1="525.65" y1="1656" x2="525.65" y2="1661.5" stroke="#808080" stroke-width="2"/>
<line x1="549.36" y1="1656" x2="549.36" y2="1661.5" stroke="#808080" stroke-width="2"/>
<line x1="573.07" y1="1656" x2="573.07" y2="1664.5" stroke="#808080" stroke-width="2"/>
<text transform="translate(573.37,1691.90) scale(1.0,1.03)" text-anchor="middle" font-family='"Liberation Sans", sans-serif' font-size="25.4">2500</text>
<line x1="596.78" y1="1656" x2="596.78" y2="1661.5" stroke="#808080" stroke-width="2"/>
<line x1="620.48" y1="1656" x2="620.48" y2="1661.5" stroke="#808080" stroke-width="2"/>
<line x1="644.19" y1="1656" x2="644.19" y2="1661.5" stroke="#808080" stroke-width="2"/>
<line x1="667.90" y1="1656" x2="667.90" y2="1664.5" stroke="#808080" stroke-width="2"/>
<text transform="translate(668.20,1691.90) scale(1.0,1.03)" text-anchor="middle" font-family='"Liberation Sans", sans-serif' font-size="25.4">3000</text>
<line x1="691.61" y1="1656" x2="691.61" y2="1661.5" stroke="#808080" stroke-width="2"/>
<line x1="715.32" y1="1656" x2="715.32" y2="1661.5" stroke="#808080" stroke-width="2"/>
<line x1="739.02" y1="1656" x2="739.02" y2="1661.5" stroke="#808080" stroke-width="2"/>
<line x1="762.73" y1="1656" x2="762.73" y2="1664.5" stroke="#808080" stroke-width="2"/>
<text transform="translate(763.03,1691.90) scale(1.0,1.03)" text-anchor="middle" font-family='"Liberation Sans", sans-serif' font-size="25.4">3500</text>
<line x1="786.44" y1="1656" x2="786.44" y2="1661.5" stroke="#808080" stroke-width="2"/>
<line x1="810.15" y1="1656" x2="810.15" y2="1661.5" stroke="#808080" stroke-width="2"/>
<line x1="833.86" y1="1656" x2="833.86" y2="1661.5" stroke="#808080" stroke-width="2"/>
<line x1="857.57" y1="1656" x2="857.57" y2="1664.5" stroke="#808080" stroke-width="2"/>
<text transform="translate(857.87,1691.90) scale(1.0,1.03)" text-anchor="middle" font-family='"Liberation Sans", sans-serif' font-size="25.4">4000</text>
<line x1="881.27" y1="1656" x2="881.27" y2="1661.5" stroke="#808080" stroke-width="2"/>
<line x1="904.98" y1="1656" x2="904.98" y2="1661.5" stroke="#808080" stroke-width="2"/>
<line x1="928.69" y1="1656" x2="928.69" y2="1661.5" stroke="#808080" stroke-width="2"/>
<line x1="952.40" y1="1656" x2="952.40" y2="1664.5" stroke="#808080" stroke-width="2"/>
<text transform="translate(952.70,1691.90) scale(1.0,1.03)" text-anchor="middle" font-family='"Liberation Sans", sans-serif' font-size="25.4">4500</text>
<polyline clip-path="url(#c4)" points="101.0,1649.1 107.0,1651.3 113.1,1651.3 116.5,1648.6 121.7,1645.6 126.0,1640.0 129.4,1640.0 133.7,1643.1 146.6,1643.1 152.6,1640.0 159.5,1640.0 163.0,1645.6 167.3,1643.1 184.5,1643.1 189.6,1645.6 194.0,1645.6 205.1,1651.3 229.2,1651.3 232.7,1653.0 237.8,1649.1 243.0,1645.6 249.0,1645.6 253.3,1643.1 255.9,1625.9 258.5,1602.6 261.9,1602.6 265.4,1592.3 267.9,1567.3 268.4,1567.3 272.7,1552.7 277.0,1549.3 281.3,1543.3 284.8,1534.6 289.1,1526.0 292.2,1511.9 296.0,1535.5 299.4,1520.9 303.7,1512.3 307.2,1527.8 311.1,1535.5 314.0,1529.5 319.2,1526.0 322.6,1520.0 325.6,1512.3 329.5,1521.2 333.8,1514.9 341.6,1521.2 344.2,1512.3 349.3,1512.3 352.8,1518.8 356.2,1513.1 359.6,1509.7 364.5,1515.7 367.9,1509.2 370.8,1520.9 375.1,1529.8 379.4,1526.9 383.7,1524.0 386.3,1517.4 391.5,1509.7 394.9,1509.7 398.4,1521.2 402.7,1518.3 407.0,1506.3 410.4,1512.3 413.0,1509.2 416.4,1515.7 420.7,1518.3 424.2,1526.0 428.5,1526.9 431.9,1529.5 435.4,1522.6 440.2,1515.7 443.6,1520.9 447.9,1508.8 452.2,1496.8 455.3,1476.1 459.1,1473.6 462.5,1476.1 466.8,1450.3 470.3,1446.0 473.7,1450.3 477.2,1459.3 482.3,1456.3 486.6,1462.4 490.1,1476.1 492.6,1500.2 497.0,1515.7 501.3,1509.7 503.8,1536.4 507.3,1550.1 512.4,1554.4 515.9,1560.5 519.3,1580.3 522.8,1589.7 527.9,1596.6 531.4,1603.5 534.8,1609.5 538.3,1622.4 542.6,1631.0 547.7,1637.9 553.7,1642.2 558.9,1645.6 565.8,1646.2 569.2,1643.9 572.7,1640.5 577.0,1640.5 580.4,1634.5 584.7,1631.0 588.2,1634.5 591.6,1621.6 595.0,1612.1 598.5,1606.1 604.5,1602.6 610.2,1605.5 614.5,1601.4 625.7,1601.4 630.0,1613.8 633.4,1625.9 636.8,1631.4 640.3,1622.8 648.9,1622.8 655.8,1629.0 660.1,1622.8 664.4,1617.3 667.8,1608.6 671.3,1608.6 674.7,1601.4 679.0,1611.2 682.4,1602.6 686.7,1598.3 692.8,1595.2 695.3,1595.7 698.8,1601.4 702.2,1601.8 706.5,1605.5 710.0,1605.5 713.4,1611.2 716.9,1606.1 721.2,1613.8 725.5,1619.8 728.9,1620.3 733.2,1623.3 736.6,1623.3 740.1,1629.0 747.0,1629.0 752.1,1631.4 755.6,1639.6 759.9,1640.5 765.0,1646.5 769.3,1648.2 774.5,1651.3 780.0,1651.3 784.5,1651.3 789.6,1648.6 800.8,1648.6 805.1,1645.6 811.1,1645.6 816.3,1642.7 819.7,1642.7 823.2,1637.6 828.3,1637.0 831.8,1634.5 838.7,1634.5 843.8,1637.6 849.0,1637.6 854.2,1640.5 858.5,1643.1 861.9,1649.1 865.3,1646.2 868.8,1648.6 873.1,1646.2 876.5,1640.5 880.0,1637.0 883.4,1631.4 888.6,1631.4 893.7,1625.5 898.9,1617.3 903.2,1617.3 907.5,1614.2 910.9,1614.7 914.4,1620.3 922.1,1620.3 925.6,1600.0 929.0,1581.1 933.3,1573.4 937.6,1566.5 941.1,1557.9 944.3,1552.3 949.9,1552.3 952.4,1533.6 954.9,1509.9 958.7,1484.9 962.4,1488.7 965.5,1492.4 968.0,1501.2" fill="none" stroke="#60c400" stroke-width="3" stroke-linejoin="round" stroke-linecap="butt"/>
<polyline clip-path="url(#c4)" points="101.0,1605.2 106.2,1613.8 113.9,1619.8 117.4,1616.4 121.7,1622.8 125.1,1617.3 129.4,1617.3 132.9,1614.2 137.2,1614.2 140.6,1611.2 144.9,1611.2 148.3,1608.3 152.6,1608.6 156.1,1614.7 159.5,1608.6 166.4,1613.8 170.7,1614.2 174.2,1605.5 177.6,1614.2 182.8,1614.2 186.2,1619.8 189.6,1616.4 193.1,1602.6 196.5,1606.9 200.8,1614.2 208.6,1614.2 212.9,1617.3 216.3,1611.2 219.8,1611.2 223.2,1605.5 227.5,1610.4 231.8,1616.9 237.8,1616.9 243.0,1620.7 246.4,1625.9 250.7,1629.3 254.2,1634.5 257.6,1625.9 261.1,1631.0 265.4,1622.8 269.3,1629.0 274.5,1625.5 279.6,1621.6 283.9,1617.3 292.5,1617.3 295.1,1628.4 298.6,1628.4 303.7,1637.0 309.7,1642.2 314.9,1645.6 318.3,1645.6 322.6,1649.1 326.1,1651.7 329.5,1648.6 333.8,1648.6 337.3,1639.6 342.4,1635.3 348.5,1631.4 351.9,1631.4 356.2,1634.5 360.5,1634.5 364.8,1631.4 368.3,1622.8 371.7,1622.8 375.1,1630.7 379.4,1630.7 383.7,1634.5 388.9,1634.5 392.3,1631.4 400.1,1631.4 402.7,1628.4 406.1,1639.6 409.6,1637.6 413.9,1637.6 417.3,1640.5 421.6,1631.4 425.0,1634.5 428.5,1631.4 435.4,1631.4 440.2,1634.8 447.0,1634.8 451.3,1631.4 466.8,1631.4 470.3,1629.0 474.6,1619.8 478.9,1613.8 484.0,1607.8 489.2,1603.5 492.6,1594.0 497.0,1582.8 501.3,1570.8 503.8,1563.0 507.3,1552.7 512.4,1544.1 516.7,1540.7 519.3,1524.3 522.8,1521.7 526.2,1518.3 529.6,1514.0 531.4,1506.3 534.8,1511.9 537.4,1510.6 540.0,1509.7 543.4,1520.0 546.9,1520.9 549.4,1538.1 553.7,1539.0 558.0,1551.9 562.3,1559.6 565.8,1569.1 569.2,1578.5 573.5,1580.8 577.0,1589.7 580.4,1592.3 583.9,1601.8 588.2,1602.6 591.6,1613.8 595.9,1620.7 598.5,1622.4 602.8,1623.3 606.2,1631.0 608.4,1631.4 611.0,1640.5 615.3,1645.6 620.5,1648.6 624.8,1648.6 629.1,1645.6 632.5,1648.2 637.7,1649.6 641.1,1651.3 651.5,1651.3 655.8,1648.2 663.5,1648.2 667.8,1651.3 672.1,1645.6 676.4,1642.2 679.9,1640.0 683.3,1634.5 686.7,1634.5 691.9,1628.4 694.5,1628.4 697.9,1619.8 701.4,1616.9 706.5,1616.9 713.4,1622.8 716.9,1614.2 721.2,1602.6 725.5,1597.5 731.5,1582.0 736.6,1575.1 740.1,1552.7 743.5,1543.3 747.0,1529.5 752.1,1526.0 755.6,1534.6 759.0,1541.5 762.5,1535.0 766.8,1540.7 770.2,1546.7 773.6,1541.2 777.1,1563.9 777.6,1563.9 781.9,1561.3 785.3,1578.5 789.6,1569.4 793.1,1569.9 798.2,1577.7 803.4,1586.3 807.7,1589.7 812.0,1598.0 816.3,1601.8 818.9,1611.2 822.3,1611.7 827.5,1618.1 830.9,1620.7 834.4,1620.7 839.5,1624.1 845.6,1628.4 849.9,1637.0 853.3,1631.4 861.0,1631.4 864.5,1637.0 867.9,1634.5 873.1,1637.6 876.5,1637.6 880.0,1631.4 887.7,1631.4 892.0,1637.6 895.5,1637.6 898.9,1631.4 903.2,1625.9 907.5,1629.0 913.5,1629.0 917.8,1631.4 937.4,1625.9 941.2,1631.6 944.9,1631.6 948.7,1629.1 956.2,1629.1 959.3,1626.6 963.6,1629.1 968.0,1629.1" fill="none" stroke="#0060c8" stroke-width="3" stroke-linejoin="round" stroke-linecap="butt"/>
<polyline clip-path="url(#c4)" points="101.0,1654.8 264.5,1654.8 268.4,1645.6 304.6,1645.6 307.2,1654.2 334.7,1654.2 337.3,1623.3 341.6,1619.8 345.0,1611.2 349.3,1584.2 364.0,1584.2 367.9,1563.9 371.7,1563.9 375.1,1595.7 379.4,1598.3 382.9,1606.1 385.5,1625.0 386.3,1634.5 401.8,1634.5 406.1,1654.2 429.3,1654.2 432.8,1651.3 440.0,1651.3 466.8,1651.3 471.1,1654.2 477.2,1654.2 482.3,1645.6 492.6,1645.6 497.0,1606.1 501.3,1598.3 503.8,1552.7 509.0,1543.3 513.3,1532.9 515.9,1497.6 519.3,1506.3 523.6,1506.3 527.1,1467.5 532.2,1465.0 535.7,1502.8 539.1,1510.6 542.6,1557.9 546.0,1567.3 550.3,1578.5 552.9,1611.2 562.3,1611.2 565.8,1650.8 569.2,1654.2 598.5,1654.2 602.8,1643.1 610.0,1643.1 637.7,1643.1 640.3,1654.2 724.6,1654.2 728.0,1643.1 762.5,1643.1 765.9,1654.2 780.0,1654.2 933.7,1654.7 936.8,1625.9 968.0,1625.9" fill="none" stroke="#c80000" stroke-width="3" stroke-linejoin="round" stroke-linecap="butt"/>
<rect x="99" y="1443" width="870" height="213" fill="none" stroke="#000" stroke-width="2" stroke-linejoin="round"/>
<line x1="124" y1="1474.6" x2="148" y2="1474.6" stroke="#c80000" stroke-width="4" stroke-linecap="round"/>
<text transform="translate(158.60,1484.10) scale(1.0,1.057)" fill="#c80000" font-family='"Liberation Sans", sans-serif' font-size="25.2">Pattern 483</text>
<line x1="124" y1="1504.6" x2="148" y2="1504.6" stroke="#0060c8" stroke-width="4" stroke-linecap="round"/>
<text transform="translate(158.60,1514.10) scale(1.0,1.057)" fill="#0060c8" font-family='"Liberation Sans", sans-serif' font-size="25.2">Neuron 3</text>
<line x1="124" y1="1534.6" x2="148" y2="1534.6" stroke="#60c400" stroke-width="4" stroke-linecap="round"/>
<text transform="translate(158.60,1544.10) scale(1.0,1.057)" fill="#60c400" font-family='"Liberation Sans", sans-serif' font-size="25.2">Neuron 10</text>
<text transform="translate(969.60,1434.60) scale(1.0,1.09)" text-anchor="end" fill="#999" font-family='"Liberation Sans", sans-serif' font-size="20.4">col05-e08_S1</text>
<text transform="translate(27.20,1548.50) rotate(-90) scale(1.0,1.045)" text-anchor="middle" font-family='"Liberation Sans", sans-serif' font-size="33.8">Rate [Hz]</text>
<rect x="996.5" y="1452.38" width="15" height="7.48" fill="rgb(250,250,250)"/>
<rect x="996.5" y="1460.45" width="15" height="7.48" fill="rgb(250,250,250)"/>
<rect x="996.5" y="1468.53" width="15" height="7.48" fill="rgb(238,238,238)"/>
<rect x="996.5" y="1476.61" width="15" height="7.48" fill="rgb(235,235,235)"/>
<rect x="996.5" y="1492.76" width="15" height="7.48" fill="rgb(238,238,238)"/>
<rect x="996.5" y="1500.84" width="15" height="7.48" fill="rgb(238,238,238)"/>
<rect x="996.5" y="1508.92" width="15" height="7.48" fill="rgb(227,227,227)"/>
<rect x="996.5" y="1516.99" width="15" height="7.48" fill="rgb(252,252,252)"/>
<rect x="996.5" y="1525.07" width="15" height="7.48" fill="rgb(248,248,248)"/>
<rect x="996.5" y="1533.15" width="15" height="7.48" fill="rgb(252,252,252)"/>
<rect x="996.5" y="1541.22" width="15" height="7.48" fill="rgb(252,252,252)"/>
<rect x="996.5" y="1549.30" width="15" height="7.48" fill="rgb(226,226,226)"/>
<rect x="996.5" y="1557.38" width="15" height="7.48" fill="rgb(250,250,250)"/>
<rect x="996.5" y="1565.45" width="15" height="7.48" fill="rgb(236,236,236)"/>
<rect x="995" y="1573.53" width="18" height="7.48" fill="rgb(39,39,39)"/>
<rect x="996.5" y="1581.61" width="15" height="7.48" fill="rgb(236,236,236)"/>
<rect x="996.5" y="1589.68" width="15" height="7.48" fill="rgb(250,250,250)"/>
<rect x="996.5" y="1597.76" width="15" height="7.48" fill="rgb(232,232,232)"/>
<rect x="996.5" y="1605.84" width="15" height="7.48" fill="rgb(235,235,235)"/>
<rect x="996.5" y="1613.92" width="15" height="7.48" fill="rgb(248,248,248)"/>
<rect x="996.5" y="1621.99" width="15" height="7.48" fill="rgb(248,248,248)"/>
<rect x="995" y="1630.07" width="18" height="7.48" fill="rgb(34,34,34)"/>
<rect x="996.5" y="1638.15" width="15" height="7.48" fill="rgb(242,242,242)"/>
<rect x="996.5" y="1646.22" width="15" height="7.48" fill="rgb(226,226,226)"/>
<rect x="995" y="1443" width="18" height="213" fill="none" stroke="#000" stroke-width="2" stroke-linejoin="round"/>
<text transform="translate(535.40,674.00) scale(1.0,1.02)" text-anchor="middle" font-family='"Liberation Sans", sans-serif' font-size="33.6">Time [ms]</text>
<text transform="translate(535.40,1364.30) scale(1.0,1.02)" text-anchor="middle" font-family='"Liberation Sans", sans-serif' font-size="33.6">Time [ms]</text>
<text transform="translate(535.40,1753.60) scale(1.0,1.02)" text-anchor="middle" font-family='"Liberation Sans", sans-serif' font-size="33.6">Time [ms]</text>
</svg></body></html>
